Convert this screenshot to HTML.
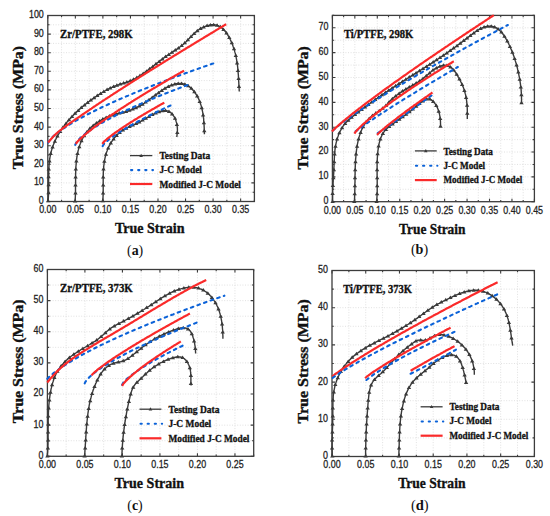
<!DOCTYPE html>
<html><head><meta charset="utf-8"><style>
html,body{margin:0;padding:0;background:#fff;}
body{width:550px;height:516px;overflow:hidden;font-family:"Liberation Sans",sans-serif;}
svg{display:block;}
</style></head><body>
<svg width="550" height="516" viewBox="0 0 550 516">
<rect width="550" height="516" fill="#fff"/>
<g><path d="M61.57 15.50V201.50M75.35 15.50V201.50M89.12 15.50V201.50M102.89 15.50V201.50M116.67 15.50V201.50M130.44 15.50V201.50M144.21 15.50V201.50M157.99 15.50V201.50M171.76 15.50V201.50M185.53 15.50V201.50M199.31 15.50V201.50M213.08 15.50V201.50M226.85 15.50V201.50M240.63 15.50V201.50M47.80 192.20H254.40M47.80 182.90H254.40M47.80 173.60H254.40M47.80 164.30H254.40M47.80 155.00H254.40M47.80 145.70H254.40M47.80 136.40H254.40M47.80 127.10H254.40M47.80 117.80H254.40M47.80 108.50H254.40M47.80 99.20H254.40M47.80 89.90H254.40M47.80 80.60H254.40M47.80 71.30H254.40M47.80 62.00H254.40M47.80 52.70H254.40M47.80 43.40H254.40M47.80 34.10H254.40M47.80 24.80H254.40" stroke="#d9d9d9" stroke-width="0.8" stroke-dasharray="1 1.6" fill="none"/><path d="M47.80 201.50v-3.00M47.80 15.50v3.00M61.57 201.50v-1.80M61.57 15.50v1.80M75.35 201.50v-3.00M75.35 15.50v3.00M89.12 201.50v-1.80M89.12 15.50v1.80M102.89 201.50v-3.00M102.89 15.50v3.00M116.67 201.50v-1.80M116.67 15.50v1.80M130.44 201.50v-3.00M130.44 15.50v3.00M144.21 201.50v-1.80M144.21 15.50v1.80M157.99 201.50v-3.00M157.99 15.50v3.00M171.76 201.50v-1.80M171.76 15.50v1.80M185.53 201.50v-3.00M185.53 15.50v3.00M199.31 201.50v-1.80M199.31 15.50v1.80M213.08 201.50v-3.00M213.08 15.50v3.00M226.85 201.50v-1.80M226.85 15.50v1.80M240.63 201.50v-3.00M240.63 15.50v3.00M254.40 201.50v-1.80M254.40 15.50v1.80M47.80 201.50h3.00M254.40 201.50h-3.00M47.80 192.20h1.80M254.40 192.20h-1.80M47.80 182.90h3.00M254.40 182.90h-3.00M47.80 173.60h1.80M254.40 173.60h-1.80M47.80 164.30h3.00M254.40 164.30h-3.00M47.80 155.00h1.80M254.40 155.00h-1.80M47.80 145.70h3.00M254.40 145.70h-3.00M47.80 136.40h1.80M254.40 136.40h-1.80M47.80 127.10h3.00M254.40 127.10h-3.00M47.80 117.80h1.80M254.40 117.80h-1.80M47.80 108.50h3.00M254.40 108.50h-3.00M47.80 99.20h1.80M254.40 99.20h-1.80M47.80 89.90h3.00M254.40 89.90h-3.00M47.80 80.60h1.80M254.40 80.60h-1.80M47.80 71.30h3.00M254.40 71.30h-3.00M47.80 62.00h1.80M254.40 62.00h-1.80M47.80 52.70h3.00M254.40 52.70h-3.00M47.80 43.40h1.80M254.40 43.40h-1.80M47.80 34.10h3.00M254.40 34.10h-3.00M47.80 24.80h1.80M254.40 24.80h-1.80M47.80 15.50h3.00M254.40 15.50h-3.00" stroke="#3c3c3c" stroke-width="1.1" fill="none"/><rect x="47.80" y="15.50" width="206.60" height="186.00" fill="none" stroke="#3c3c3c" stroke-width="1.3"/><g font-family="Liberation Sans, sans-serif" font-size="11.3" fill="#222" stroke="#222" stroke-width="0.3"><text x="39.15" y="213.40" textLength="17.30" lengthAdjust="spacingAndGlyphs">0.00</text><text x="66.70" y="213.40" textLength="17.30" lengthAdjust="spacingAndGlyphs">0.05</text><text x="94.24" y="213.40" textLength="17.30" lengthAdjust="spacingAndGlyphs">0.10</text><text x="121.79" y="213.40" textLength="17.30" lengthAdjust="spacingAndGlyphs">0.15</text><text x="149.34" y="213.40" textLength="17.30" lengthAdjust="spacingAndGlyphs">0.20</text><text x="176.88" y="213.40" textLength="17.30" lengthAdjust="spacingAndGlyphs">0.25</text><text x="204.43" y="213.40" textLength="17.30" lengthAdjust="spacingAndGlyphs">0.30</text><text x="231.98" y="213.40" textLength="17.30" lengthAdjust="spacingAndGlyphs">0.35</text><text x="38.85" y="203.90" textLength="4.95" lengthAdjust="spacingAndGlyphs">0</text><text x="33.90" y="185.30" textLength="9.90" lengthAdjust="spacingAndGlyphs">10</text><text x="33.90" y="166.70" textLength="9.90" lengthAdjust="spacingAndGlyphs">20</text><text x="33.90" y="148.10" textLength="9.90" lengthAdjust="spacingAndGlyphs">30</text><text x="33.90" y="129.50" textLength="9.90" lengthAdjust="spacingAndGlyphs">40</text><text x="33.90" y="110.90" textLength="9.90" lengthAdjust="spacingAndGlyphs">50</text><text x="33.90" y="92.30" textLength="9.90" lengthAdjust="spacingAndGlyphs">60</text><text x="33.90" y="73.70" textLength="9.90" lengthAdjust="spacingAndGlyphs">70</text><text x="33.90" y="55.10" textLength="9.90" lengthAdjust="spacingAndGlyphs">80</text><text x="33.90" y="36.50" textLength="9.90" lengthAdjust="spacingAndGlyphs">90</text><text x="28.95" y="17.90" textLength="14.85" lengthAdjust="spacingAndGlyphs">100</text></g></g>
<g><path d="M343.62 15.40V201.70M354.84 15.40V201.70M366.07 15.40V201.70M377.29 15.40V201.70M388.51 15.40V201.70M399.73 15.40V201.70M410.96 15.40V201.70M422.18 15.40V201.70M433.40 15.40V201.70M444.62 15.40V201.70M455.84 15.40V201.70M467.07 15.40V201.70M478.29 15.40V201.70M489.51 15.40V201.70M500.73 15.40V201.70M511.96 15.40V201.70M523.18 15.40V201.70M332.40 189.28H534.40M332.40 176.86H534.40M332.40 164.44H534.40M332.40 152.02H534.40M332.40 139.60H534.40M332.40 127.18H534.40M332.40 114.76H534.40M332.40 102.34H534.40M332.40 89.92H534.40M332.40 77.50H534.40M332.40 65.08H534.40M332.40 52.66H534.40M332.40 40.24H534.40M332.40 27.82H534.40" stroke="#d9d9d9" stroke-width="0.8" stroke-dasharray="1 1.6" fill="none"/><path d="M332.40 201.70v-3.00M332.40 15.40v3.00M343.62 201.70v-1.80M343.62 15.40v1.80M354.84 201.70v-3.00M354.84 15.40v3.00M366.07 201.70v-1.80M366.07 15.40v1.80M377.29 201.70v-3.00M377.29 15.40v3.00M388.51 201.70v-1.80M388.51 15.40v1.80M399.73 201.70v-3.00M399.73 15.40v3.00M410.96 201.70v-1.80M410.96 15.40v1.80M422.18 201.70v-3.00M422.18 15.40v3.00M433.40 201.70v-1.80M433.40 15.40v1.80M444.62 201.70v-3.00M444.62 15.40v3.00M455.84 201.70v-1.80M455.84 15.40v1.80M467.07 201.70v-3.00M467.07 15.40v3.00M478.29 201.70v-1.80M478.29 15.40v1.80M489.51 201.70v-3.00M489.51 15.40v3.00M500.73 201.70v-1.80M500.73 15.40v1.80M511.96 201.70v-3.00M511.96 15.40v3.00M523.18 201.70v-1.80M523.18 15.40v1.80M534.40 201.70v-3.00M534.40 15.40v3.00M332.40 201.70h3.00M534.40 201.70h-3.00M332.40 189.28h1.80M534.40 189.28h-1.80M332.40 176.86h3.00M534.40 176.86h-3.00M332.40 164.44h1.80M534.40 164.44h-1.80M332.40 152.02h3.00M534.40 152.02h-3.00M332.40 139.60h1.80M534.40 139.60h-1.80M332.40 127.18h3.00M534.40 127.18h-3.00M332.40 114.76h1.80M534.40 114.76h-1.80M332.40 102.34h3.00M534.40 102.34h-3.00M332.40 89.92h1.80M534.40 89.92h-1.80M332.40 77.50h3.00M534.40 77.50h-3.00M332.40 65.08h1.80M534.40 65.08h-1.80M332.40 52.66h3.00M534.40 52.66h-3.00M332.40 40.24h1.80M534.40 40.24h-1.80M332.40 27.82h3.00M534.40 27.82h-3.00M332.40 15.40h1.80M534.40 15.40h-1.80" stroke="#3c3c3c" stroke-width="1.1" fill="none"/><rect x="332.40" y="15.40" width="202.00" height="186.30" fill="none" stroke="#3c3c3c" stroke-width="1.3"/><g font-family="Liberation Sans, sans-serif" font-size="11.3" fill="#222" stroke="#222" stroke-width="0.3"><text x="323.75" y="213.60" textLength="17.30" lengthAdjust="spacingAndGlyphs">0.00</text><text x="346.19" y="213.60" textLength="17.30" lengthAdjust="spacingAndGlyphs">0.05</text><text x="368.64" y="213.60" textLength="17.30" lengthAdjust="spacingAndGlyphs">0.10</text><text x="391.08" y="213.60" textLength="17.30" lengthAdjust="spacingAndGlyphs">0.15</text><text x="413.53" y="213.60" textLength="17.30" lengthAdjust="spacingAndGlyphs">0.20</text><text x="435.97" y="213.60" textLength="17.30" lengthAdjust="spacingAndGlyphs">0.25</text><text x="458.42" y="213.60" textLength="17.30" lengthAdjust="spacingAndGlyphs">0.30</text><text x="480.86" y="213.60" textLength="17.30" lengthAdjust="spacingAndGlyphs">0.35</text><text x="503.31" y="213.60" textLength="17.30" lengthAdjust="spacingAndGlyphs">0.40</text><text x="525.75" y="213.60" textLength="17.30" lengthAdjust="spacingAndGlyphs">0.45</text><text x="323.45" y="204.10" textLength="4.95" lengthAdjust="spacingAndGlyphs">0</text><text x="318.50" y="179.26" textLength="9.90" lengthAdjust="spacingAndGlyphs">10</text><text x="318.50" y="154.42" textLength="9.90" lengthAdjust="spacingAndGlyphs">20</text><text x="318.50" y="129.58" textLength="9.90" lengthAdjust="spacingAndGlyphs">30</text><text x="318.50" y="104.74" textLength="9.90" lengthAdjust="spacingAndGlyphs">40</text><text x="318.50" y="79.90" textLength="9.90" lengthAdjust="spacingAndGlyphs">50</text><text x="318.50" y="55.06" textLength="9.90" lengthAdjust="spacingAndGlyphs">60</text><text x="318.50" y="30.22" textLength="9.90" lengthAdjust="spacingAndGlyphs">70</text></g></g>
<g><path d="M66.15 269.50V456.30M84.91 269.50V456.30M103.66 269.50V456.30M122.42 269.50V456.30M141.17 269.50V456.30M159.93 269.50V456.30M178.68 269.50V456.30M197.44 269.50V456.30M216.19 269.50V456.30M234.95 269.50V456.30M47.40 440.73H253.70M47.40 425.17H253.70M47.40 409.60H253.70M47.40 394.03H253.70M47.40 378.47H253.70M47.40 362.90H253.70M47.40 347.33H253.70M47.40 331.77H253.70M47.40 316.20H253.70M47.40 300.63H253.70M47.40 285.07H253.70" stroke="#d9d9d9" stroke-width="0.8" stroke-dasharray="1 1.6" fill="none"/><path d="M47.40 456.30v-3.00M47.40 269.50v3.00M66.15 456.30v-1.80M66.15 269.50v1.80M84.91 456.30v-3.00M84.91 269.50v3.00M103.66 456.30v-1.80M103.66 269.50v1.80M122.42 456.30v-3.00M122.42 269.50v3.00M141.17 456.30v-1.80M141.17 269.50v1.80M159.93 456.30v-3.00M159.93 269.50v3.00M178.68 456.30v-1.80M178.68 269.50v1.80M197.44 456.30v-3.00M197.44 269.50v3.00M216.19 456.30v-1.80M216.19 269.50v1.80M234.95 456.30v-3.00M234.95 269.50v3.00M253.70 456.30v-1.80M253.70 269.50v1.80M47.40 456.30h3.00M253.70 456.30h-3.00M47.40 440.73h1.80M253.70 440.73h-1.80M47.40 425.17h3.00M253.70 425.17h-3.00M47.40 409.60h1.80M253.70 409.60h-1.80M47.40 394.03h3.00M253.70 394.03h-3.00M47.40 378.47h1.80M253.70 378.47h-1.80M47.40 362.90h3.00M253.70 362.90h-3.00M47.40 347.33h1.80M253.70 347.33h-1.80M47.40 331.77h3.00M253.70 331.77h-3.00M47.40 316.20h1.80M253.70 316.20h-1.80M47.40 300.63h3.00M253.70 300.63h-3.00M47.40 285.07h1.80M253.70 285.07h-1.80M47.40 269.50h3.00M253.70 269.50h-3.00" stroke="#3c3c3c" stroke-width="1.1" fill="none"/><rect x="47.40" y="269.50" width="206.30" height="186.80" fill="none" stroke="#3c3c3c" stroke-width="1.3"/><g font-family="Liberation Sans, sans-serif" font-size="11.3" fill="#222" stroke="#222" stroke-width="0.3"><text x="38.75" y="468.20" textLength="17.30" lengthAdjust="spacingAndGlyphs">0.00</text><text x="76.26" y="468.20" textLength="17.30" lengthAdjust="spacingAndGlyphs">0.05</text><text x="113.77" y="468.20" textLength="17.30" lengthAdjust="spacingAndGlyphs">0.10</text><text x="151.28" y="468.20" textLength="17.30" lengthAdjust="spacingAndGlyphs">0.15</text><text x="188.79" y="468.20" textLength="17.30" lengthAdjust="spacingAndGlyphs">0.20</text><text x="226.30" y="468.20" textLength="17.30" lengthAdjust="spacingAndGlyphs">0.25</text><text x="38.45" y="458.70" textLength="4.95" lengthAdjust="spacingAndGlyphs">0</text><text x="33.50" y="427.57" textLength="9.90" lengthAdjust="spacingAndGlyphs">10</text><text x="33.50" y="396.43" textLength="9.90" lengthAdjust="spacingAndGlyphs">20</text><text x="33.50" y="365.30" textLength="9.90" lengthAdjust="spacingAndGlyphs">30</text><text x="33.50" y="334.17" textLength="9.90" lengthAdjust="spacingAndGlyphs">40</text><text x="33.50" y="303.03" textLength="9.90" lengthAdjust="spacingAndGlyphs">50</text><text x="33.50" y="271.90" textLength="9.90" lengthAdjust="spacingAndGlyphs">60</text></g></g>
<g><path d="M348.87 270.50V456.50M365.73 270.50V456.50M382.60 270.50V456.50M399.47 270.50V456.50M416.33 270.50V456.50M433.20 270.50V456.50M450.07 270.50V456.50M466.93 270.50V456.50M483.80 270.50V456.50M500.67 270.50V456.50M517.53 270.50V456.50M332.00 437.90H534.40M332.00 419.30H534.40M332.00 400.70H534.40M332.00 382.10H534.40M332.00 363.50H534.40M332.00 344.90H534.40M332.00 326.30H534.40M332.00 307.70H534.40M332.00 289.10H534.40" stroke="#d9d9d9" stroke-width="0.8" stroke-dasharray="1 1.6" fill="none"/><path d="M332.00 456.50v-3.00M332.00 270.50v3.00M348.87 456.50v-1.80M348.87 270.50v1.80M365.73 456.50v-3.00M365.73 270.50v3.00M382.60 456.50v-1.80M382.60 270.50v1.80M399.47 456.50v-3.00M399.47 270.50v3.00M416.33 456.50v-1.80M416.33 270.50v1.80M433.20 456.50v-3.00M433.20 270.50v3.00M450.07 456.50v-1.80M450.07 270.50v1.80M466.93 456.50v-3.00M466.93 270.50v3.00M483.80 456.50v-1.80M483.80 270.50v1.80M500.67 456.50v-3.00M500.67 270.50v3.00M517.53 456.50v-1.80M517.53 270.50v1.80M534.40 456.50v-3.00M534.40 270.50v3.00M332.00 456.50h3.00M534.40 456.50h-3.00M332.00 437.90h1.80M534.40 437.90h-1.80M332.00 419.30h3.00M534.40 419.30h-3.00M332.00 400.70h1.80M534.40 400.70h-1.80M332.00 382.10h3.00M534.40 382.10h-3.00M332.00 363.50h1.80M534.40 363.50h-1.80M332.00 344.90h3.00M534.40 344.90h-3.00M332.00 326.30h1.80M534.40 326.30h-1.80M332.00 307.70h3.00M534.40 307.70h-3.00M332.00 289.10h1.80M534.40 289.10h-1.80M332.00 270.50h3.00M534.40 270.50h-3.00" stroke="#3c3c3c" stroke-width="1.1" fill="none"/><rect x="332.00" y="270.50" width="202.40" height="186.00" fill="none" stroke="#3c3c3c" stroke-width="1.3"/><g font-family="Liberation Sans, sans-serif" font-size="11.3" fill="#222" stroke="#222" stroke-width="0.3"><text x="323.35" y="468.40" textLength="17.30" lengthAdjust="spacingAndGlyphs">0.00</text><text x="357.08" y="468.40" textLength="17.30" lengthAdjust="spacingAndGlyphs">0.05</text><text x="390.82" y="468.40" textLength="17.30" lengthAdjust="spacingAndGlyphs">0.10</text><text x="424.55" y="468.40" textLength="17.30" lengthAdjust="spacingAndGlyphs">0.15</text><text x="458.28" y="468.40" textLength="17.30" lengthAdjust="spacingAndGlyphs">0.20</text><text x="492.02" y="468.40" textLength="17.30" lengthAdjust="spacingAndGlyphs">0.25</text><text x="525.75" y="468.40" textLength="17.30" lengthAdjust="spacingAndGlyphs">0.30</text><text x="323.05" y="458.90" textLength="4.95" lengthAdjust="spacingAndGlyphs">0</text><text x="318.10" y="421.70" textLength="9.90" lengthAdjust="spacingAndGlyphs">10</text><text x="318.10" y="384.50" textLength="9.90" lengthAdjust="spacingAndGlyphs">20</text><text x="318.10" y="347.30" textLength="9.90" lengthAdjust="spacingAndGlyphs">30</text><text x="318.10" y="310.10" textLength="9.90" lengthAdjust="spacingAndGlyphs">40</text><text x="318.10" y="272.90" textLength="9.90" lengthAdjust="spacingAndGlyphs">50</text></g></g>
<path d="M48.1 200.9 48.2 199.9 48.3 199.0 48.3 198.0 48.4 197.0 48.4 196.1 48.5 195.1 48.5 194.1 48.5 193.1 48.6 192.1 48.6 191.2 48.6 190.2 48.6 189.2 48.6 188.2 48.6 187.1 48.6 186.1 48.6 185.1 48.6 184.1 48.6 183.1 48.6 182.1 48.6 181.1 48.6 180.0 48.6 179.0 48.6 178.0 48.6 177.0 48.7 175.9 48.7 174.9 48.7 173.9 48.7 172.9 48.7 171.8 48.8 170.8 48.8 169.8 48.8 168.8 48.9 167.7 49.0 166.7 49.0 165.7 49.1 164.7 49.2 163.7 49.3 162.7 49.4 161.7 49.5 160.7 49.6 159.7 49.8 158.7 49.9 157.7 50.1 156.7 50.3 155.7 50.5 154.7 50.7 153.7 50.9 152.8 51.2 151.8 51.4 150.9 51.7 149.9 52.0 148.9 52.3 148.0 52.6 147.1 52.9 146.1 53.3 145.2 53.6 144.3 54.0 143.4 54.4 142.5 54.8 141.5 55.2 140.6 55.6 139.8 56.0 138.9 56.5 138.0 56.9 137.1 57.4 136.2 57.9 135.4 58.4 134.5 58.9 133.6 59.4 132.8 59.9 131.9 60.5 131.1 61.0 130.3 61.6 129.4 62.1 128.6 62.7 127.8 63.3 127.0 63.9 126.2 64.5 125.4 65.1 124.6 65.7 123.8 66.4 123.0 67.0 122.2 67.6 121.4 68.3 120.7 69.0 119.9 69.6 119.2 70.3 118.4 71.0 117.7 71.7 116.9 72.4 116.2 73.1 115.5 73.8 114.7 74.5 114.0 75.2 113.3 75.9 112.6 76.7 111.9 77.4 111.2 78.2 110.5 78.9 109.9 79.7 109.2 80.4 108.5 81.2 107.9 81.9 107.2 82.7 106.5 83.5 105.9 84.3 105.3 85.1 104.6 85.8 104.0 86.6 103.4 87.4 102.7 88.2 102.1 89.0 101.5 89.9 100.9 90.7 100.3 91.5 99.7 92.3 99.1 93.1 98.6 93.9 98.0 94.8 97.4 95.6 96.8 96.4 96.3 97.3 95.7 98.1 95.2 98.9 94.6 99.8 94.1 100.6 93.6 101.4 93.0 102.3 92.5 103.1 92.0 104.0 91.5 104.8 91.0 105.7 90.5 106.5 90.0 107.4 89.6 108.3 89.1 109.1 88.6 110.0 88.2 110.9 87.8 111.8 87.4 112.7 86.9 113.6 86.6 114.5 86.2 115.5 85.8 116.4 85.5 117.3 85.1 118.3 84.8 119.2 84.5 120.2 84.2 121.2 83.9 122.1 83.6 123.1 83.3 124.1 83.0 125.1 82.8 126.0 82.4 127.0 82.1 127.9 81.8 128.9 81.4 129.8 81.1 130.7 80.7 131.6 80.3 132.5 79.9 133.4 79.4 134.3 79.0 135.2 78.5 136.1 78.1 137.0 77.6 137.8 77.1 138.7 76.6 139.5 76.0 140.4 75.5 141.2 75.0 142.0 74.4 142.9 73.9 143.7 73.3 144.5 72.7 145.3 72.1 146.2 71.5 147.0 70.9 147.8 70.3 148.6 69.7 149.4 69.1 150.2 68.5 151.0 67.9 151.8 67.3 152.6 66.6 153.4 66.0 154.2 65.4 155.0 64.8 155.8 64.1 156.6 63.5 157.4 62.9 158.2 62.3 159.0 61.6 159.8 61.0 160.6 60.4 161.4 59.8 162.2 59.2 163.0 58.6 163.8 58.0 164.6 57.4 165.4 56.8 166.3 56.2 167.1 55.6 167.9 55.1 168.8 54.5 169.6 54.0 170.4 53.4 171.3 52.9 172.1 52.3 172.9 51.8 173.8 51.2 174.6 50.7 175.4 50.1 176.3 49.6 177.1 49.0 177.9 48.4 178.7 47.8 179.5 47.3 180.3 46.7 181.1 46.1 181.9 45.4 182.7 44.8 183.4 44.2 184.2 43.5 184.9 42.8 185.6 42.2 186.4 41.5 187.1 40.7 187.8 40.0 188.5 39.3 189.2 38.6 189.9 37.9 190.6 37.1 191.3 36.4 192.0 35.7 192.7 35.0 193.4 34.3 194.2 33.6 194.9 32.9 195.7 32.2 196.5 31.5 197.3 30.9 198.1 30.3 198.9 29.7 199.8 29.1 200.7 28.6 201.6 28.0 202.5 27.6 203.4 27.1 204.4 26.7 205.4 26.3 206.3 25.9 207.3 25.6 208.3 25.4 209.3 25.1 210.2 25.0 211.2 24.8 212.2 24.8 213.1 24.8 214.1 24.8 215.0 24.9 215.9 25.0 216.8 25.3 217.6 25.5 218.5 25.9 219.3 26.3 220.1 26.7 220.9 27.2 221.6 27.8 222.4 28.4 223.1 29.1 223.8 29.7 224.5 30.5 225.1 31.2 225.8 32.0 226.4 32.9 227.0 33.7 227.5 34.6 228.1 35.5 228.6 36.4 229.1 37.4 229.6 38.3 230.1 39.3 230.6 40.2 231.0 41.2 231.5 42.2 231.9 43.1 232.3 44.1 232.6 45.1 233.0 46.1 233.3 47.0 233.7 48.0 234.0 49.0 234.3 49.9 234.6 50.9 234.8 51.9 235.1 52.9 235.4 53.8 235.6 54.8 235.8 55.8 236.0 56.7 236.2 57.7 236.4 58.7 236.6 59.7 236.7 60.6 236.9 61.6 237.1 62.6 237.2 63.6 237.3 64.5 237.5 65.5 237.6 66.5 237.7 67.5 237.8 68.5 237.9 69.4 238.0 70.4 238.1 71.4 238.1 72.4 238.2 73.4 238.3 74.4 238.4 75.4 238.4 76.4 238.5 77.4 238.6 78.4 238.6 79.4 238.7 80.4 238.7 81.4 238.8 82.4 238.8 83.4 238.9 84.4 238.9 85.4 239.0 86.4 239.1 87.4 239.1 88.5 239.2 89.5 239.2 90.5 239.3 91.5" stroke="#3a3a3a" stroke-width="1.4" fill="none" stroke-linejoin="round"/>
<path d="M48.1 198.8l2.2 3.5h-4.4zM48.5 190.8l2.2 3.5h-4.4zM48.6 182.8l2.2 3.5h-4.4zM48.6 174.8l2.2 3.5h-4.4zM48.8 166.9l2.2 3.5h-4.4zM49.5 159.0l2.2 3.5h-4.4zM50.7 151.6l2.2 3.5h-4.4zM52.6 145.0l2.2 3.5h-4.4zM54.9 139.2l2.2 3.5h-4.4zM57.4 134.0l2.2 3.5h-4.4zM60.2 129.4l2.2 3.5h-4.4zM63.0 125.2l2.2 3.5h-4.4zM66.0 121.4l2.2 3.5h-4.4zM69.0 117.8l2.2 3.5h-4.4zM72.0 114.5l2.2 3.5h-4.4zM75.1 111.3l2.2 3.5h-4.4zM78.2 108.4l2.2 3.5h-4.4zM81.3 105.6l2.2 3.5h-4.4zM84.5 103.0l2.2 3.5h-4.4zM87.7 100.4l2.2 3.5h-4.4zM90.9 98.1l2.2 3.5h-4.4zM94.1 95.8l2.2 3.5h-4.4zM97.3 93.6l2.2 3.5h-4.4zM100.6 91.5l2.2 3.5h-4.4zM103.8 89.5l2.2 3.5h-4.4zM107.1 87.6l2.2 3.5h-4.4zM110.3 86.0l2.2 3.5h-4.4zM113.6 84.5l2.2 3.5h-4.4zM116.9 83.2l2.2 3.5h-4.4zM120.2 82.1l2.2 3.5h-4.4zM123.6 81.1l2.2 3.5h-4.4zM126.9 80.1l2.2 3.5h-4.4zM130.2 78.8l2.2 3.5h-4.4zM133.5 77.3l2.2 3.5h-4.4zM136.8 75.6l2.2 3.5h-4.4zM140.0 73.6l2.2 3.5h-4.4zM143.2 71.5l2.2 3.5h-4.4zM146.5 69.2l2.2 3.5h-4.4zM149.6 66.8l2.2 3.5h-4.4zM152.8 64.4l2.2 3.5h-4.4zM156.0 61.8l2.2 3.5h-4.4zM159.2 59.4l2.2 3.5h-4.4zM162.4 56.9l2.2 3.5h-4.4zM165.6 54.6l2.2 3.5h-4.4zM168.8 52.4l2.2 3.5h-4.4zM172.0 50.3l2.2 3.5h-4.4zM175.3 48.1l2.2 3.5h-4.4zM178.5 45.9l2.2 3.5h-4.4zM181.7 43.5l2.2 3.5h-4.4zM184.8 40.8l2.2 3.5h-4.4zM187.9 37.8l2.2 3.5h-4.4zM191.0 34.6l2.2 3.5h-4.4zM194.1 31.5l2.2 3.5h-4.4zM197.3 28.8l2.2 3.5h-4.4zM200.5 26.6l2.2 3.5h-4.4zM203.7 24.9l2.2 3.5h-4.4zM207.1 23.6l2.2 3.5h-4.4zM210.4 22.9l2.2 3.5h-4.4zM213.7 22.7l2.2 3.5h-4.4zM217.1 23.3l2.2 3.5h-4.4zM220.4 24.8l2.2 3.5h-4.4zM223.5 27.4l2.2 3.5h-4.4zM226.5 31.0l2.2 3.5h-4.4zM229.3 35.5l2.2 3.5h-4.4zM231.8 40.8l2.2 3.5h-4.4zM234.0 46.8l2.2 3.5h-4.4zM235.8 53.6l2.2 3.5h-4.4zM237.1 60.9l2.2 3.5h-4.4zM238.0 68.6l2.2 3.5h-4.4zM238.6 76.5l2.2 3.5h-4.4zM239.0 84.4l2.2 3.5h-4.4z" fill="#3a3a3a"/>
<path d="M75.1 201.0 75.2 200.0 75.2 199.0 75.3 198.0 75.3 197.0 75.4 196.0 75.4 195.1 75.4 194.1 75.5 193.1 75.5 192.1 75.5 191.1 75.5 190.1 75.5 189.1 75.5 188.1 75.5 187.0 75.5 186.0 75.5 185.0 75.6 184.0 75.6 183.0 75.6 182.0 75.6 181.0 75.6 180.0 75.6 178.9 75.6 177.9 75.6 176.9 75.6 175.9 75.6 174.9 75.6 173.8 75.7 172.8 75.7 171.8 75.7 170.8 75.8 169.8 75.8 168.8 75.9 167.8 75.9 166.7 76.0 165.7 76.1 164.7 76.2 163.7 76.2 162.7 76.3 161.7 76.4 160.7 76.6 159.7 76.7 158.7 76.8 157.7 77.0 156.7 77.1 155.7 77.3 154.8 77.5 153.8 77.7 152.8 77.9 151.8 78.1 150.8 78.4 149.9 78.6 148.9 78.9 148.0 79.2 147.0 79.5 146.1 79.8 145.1 80.1 144.2 80.5 143.3 80.8 142.4 81.2 141.5 81.6 140.6 82.0 139.7 82.5 138.8 82.9 137.9 83.4 137.1 83.9 136.2 84.4 135.4 85.0 134.6 85.5 133.7 86.1 132.9 86.7 132.1 87.3 131.4 88.0 130.6 88.6 129.9 89.3 129.1 90.0 128.4 90.8 127.7 91.5 127.0 92.3 126.3 93.1 125.7 93.9 125.0 94.7 124.4 95.6 123.8 96.4 123.2 97.2 122.6 98.1 122.0 99.0 121.5 99.8 120.9 100.7 120.4 101.6 119.9 102.5 119.4 103.3 118.9 104.2 118.5 105.1 118.0 106.0 117.6 106.9 117.2 107.8 116.8 108.7 116.4 109.6 116.1 110.5 115.7 111.5 115.4 112.4 115.1 113.4 114.8 114.3 114.5 115.3 114.3 116.2 114.0 117.2 113.8 118.2 113.5 119.1 113.3 120.1 113.1 121.1 112.8 122.1 112.6 123.0 112.3 124.0 112.1 125.0 111.8 126.0 111.5 126.9 111.2 127.9 110.9 128.9 110.6 129.8 110.3 130.8 109.9 131.7 109.6 132.7 109.2 133.6 108.8 134.5 108.4 135.5 108.0 136.4 107.6 137.3 107.2 138.2 106.7 139.0 106.3 139.9 105.8 140.8 105.3 141.6 104.8 142.5 104.3 143.3 103.8 144.1 103.3 144.9 102.7 145.8 102.2 146.6 101.6 147.4 101.0 148.2 100.5 149.0 99.9 149.8 99.3 150.6 98.7 151.4 98.1 152.2 97.5 153.0 96.9 153.8 96.3 154.6 95.7 155.4 95.1 156.2 94.5 157.0 93.9 157.8 93.3 158.7 92.7 159.5 92.1 160.3 91.5 161.2 90.9 162.0 90.3 162.9 89.7 163.8 89.2 164.6 88.6 165.5 88.1 166.4 87.6 167.3 87.0 168.2 86.6 169.2 86.1 170.1 85.7 171.0 85.3 172.0 84.9 173.0 84.6 173.9 84.3 174.9 84.0 175.9 83.8 176.9 83.6 177.9 83.5 178.9 83.4 179.8 83.4 180.8 83.4 181.7 83.5 182.7 83.7 183.6 83.9 184.5 84.1 185.4 84.5 186.2 84.8 187.1 85.3 187.9 85.7 188.7 86.3 189.5 86.8 190.2 87.4 190.9 88.1 191.7 88.7 192.4 89.5 193.0 90.2 193.7 91.0 194.3 91.8 194.9 92.6 195.5 93.5 196.1 94.3 196.6 95.2 197.1 96.1 197.6 97.0 198.1 97.9 198.6 98.9 199.0 99.8 199.4 100.8 199.8 101.7 200.1 102.7 200.5 103.6 200.8 104.6 201.1 105.6 201.4 106.5 201.7 107.5 201.9 108.5 202.1 109.5 202.3 110.5 202.5 111.4 202.7 112.4 202.9 113.4 203.1 114.4 203.2 115.4 203.3 116.4 203.4 117.4 203.6 118.4 203.7 119.4 203.7 120.4 203.8 121.4 203.9 122.4 204.0 123.4 204.0 124.4 204.1 125.4 204.1 126.4 204.2 127.4 204.2 128.4 204.2 129.4 204.3 130.4 204.3 131.4 204.3 132.4 204.4 133.4 204.4 134.3" stroke="#3a3a3a" stroke-width="1.4" fill="none" stroke-linejoin="round"/>
<path d="M75.1 198.9l2.2 3.5h-4.4zM75.5 190.9l2.2 3.5h-4.4zM75.5 182.9l2.2 3.5h-4.4zM75.6 174.9l2.2 3.5h-4.4zM75.8 166.9l2.2 3.5h-4.4zM76.4 159.1l2.2 3.5h-4.4zM77.5 151.5l2.2 3.5h-4.4zM79.3 144.7l2.2 3.5h-4.4zM81.5 138.8l2.2 3.5h-4.4zM84.1 133.8l2.2 3.5h-4.4zM87.0 129.7l2.2 3.5h-4.4zM90.0 126.3l2.2 3.5h-4.4zM93.2 123.5l2.2 3.5h-4.4zM96.4 121.1l2.2 3.5h-4.4zM99.6 119.0l2.2 3.5h-4.4zM102.8 117.1l2.2 3.5h-4.4zM106.1 115.4l2.2 3.5h-4.4zM109.4 114.0l2.2 3.5h-4.4zM112.7 112.9l2.2 3.5h-4.4zM116.1 112.0l2.2 3.5h-4.4zM119.4 111.1l2.2 3.5h-4.4zM122.7 110.3l2.2 3.5h-4.4zM126.1 109.4l2.2 3.5h-4.4zM129.4 108.3l2.2 3.5h-4.4zM132.7 107.1l2.2 3.5h-4.4zM136.0 105.7l2.2 3.5h-4.4zM139.3 104.1l2.2 3.5h-4.4zM142.5 102.2l2.2 3.5h-4.4zM145.7 100.1l2.2 3.5h-4.4zM149.0 97.8l2.2 3.5h-4.4zM152.2 95.4l2.2 3.5h-4.4zM155.4 93.0l2.2 3.5h-4.4zM158.6 90.7l2.2 3.5h-4.4zM161.8 88.4l2.2 3.5h-4.4zM165.0 86.3l2.2 3.5h-4.4zM168.3 84.5l2.2 3.5h-4.4zM171.6 83.0l2.2 3.5h-4.4zM174.9 81.9l2.2 3.5h-4.4zM178.2 81.4l2.2 3.5h-4.4zM181.6 81.4l2.2 3.5h-4.4zM184.9 82.2l2.2 3.5h-4.4zM188.2 83.8l2.2 3.5h-4.4zM191.3 86.3l2.2 3.5h-4.4zM194.4 89.8l2.2 3.5h-4.4zM197.2 94.1l2.2 3.5h-4.4zM199.7 99.4l2.2 3.5h-4.4zM201.7 105.7l2.2 3.5h-4.4zM203.1 112.9l2.2 3.5h-4.4zM203.9 120.7l2.2 3.5h-4.4zM204.3 128.7l2.2 3.5h-4.4z" fill="#3a3a3a"/>
<path d="M102.8 200.9 102.9 200.0 102.9 199.0 103.0 198.0 103.0 197.0 103.1 196.0 103.1 195.0 103.1 194.0 103.1 193.0 103.1 192.0 103.2 191.0 103.2 190.0 103.2 189.0 103.2 188.0 103.2 187.0 103.2 186.0 103.2 184.9 103.2 183.9 103.2 182.9 103.2 181.9 103.2 180.9 103.2 179.8 103.2 178.8 103.2 177.8 103.2 176.8 103.2 175.8 103.3 174.7 103.3 173.7 103.3 172.7 103.4 171.7 103.4 170.7 103.5 169.6 103.6 168.6 103.7 167.6 103.7 166.6 103.8 165.6 104.0 164.6 104.1 163.6 104.2 162.6 104.4 161.6 104.5 160.6 104.7 159.6 104.9 158.6 105.1 157.7 105.3 156.7 105.6 155.7 105.8 154.8 106.1 153.8 106.4 152.8 106.7 151.9 107.1 150.9 107.4 150.0 107.8 149.1 108.2 148.1 108.6 147.2 109.0 146.3 109.5 145.4 110.0 144.5 110.5 143.6 111.0 142.8 111.5 141.9 112.1 141.1 112.7 140.2 113.3 139.4 113.9 138.6 114.5 137.8 115.2 137.0 115.9 136.3 116.6 135.5 117.3 134.8 118.0 134.1 118.7 133.4 119.5 132.8 120.3 132.1 121.0 131.5 121.8 130.9 122.7 130.4 123.5 129.8 124.3 129.3 125.2 128.8 126.1 128.3 127.0 127.9 127.9 127.4 128.8 127.0 129.7 126.6 130.6 126.2 131.5 125.8 132.4 125.3 133.3 124.9 134.2 124.5 135.2 124.1 136.1 123.7 137.0 123.2 137.9 122.8 138.8 122.3 139.7 121.8 140.6 121.4 141.5 120.9 142.4 120.4 143.2 119.8 144.1 119.3 145.0 118.8 145.9 118.3 146.8 117.8 147.7 117.3 148.6 116.7 149.5 116.2 150.4 115.7 151.3 115.2 152.3 114.7 153.2 114.3 154.1 113.8 155.1 113.4 156.0 112.9 157.0 112.5 158.0 112.1 159.0 111.8 159.9 111.5 160.9 111.2 161.9 111.0 162.8 110.8 163.7 110.7 164.7 110.6 165.6 110.6 166.4 110.7 167.3 110.9 168.1 111.2 168.9 111.5 169.6 112.0 170.4 112.4 171.1 113.0 171.7 113.6 172.4 114.3 173.0 115.0 173.5 115.8 174.1 116.6 174.6 117.5 175.0 118.4 175.4 119.4 175.8 120.3 176.1 121.4 176.4 122.4 176.7 123.4 176.9 124.5 177.1 125.6 177.2 126.7 177.3 127.8 177.4 128.9 177.4 130.0 177.4 131.0 177.3 132.1 177.3 133.1 177.1 134.1 177.0 135.1 176.9 136.1 176.7 137.0" stroke="#3a3a3a" stroke-width="1.4" fill="none" stroke-linejoin="round"/>
<path d="M102.8 198.8l2.2 3.5h-4.4zM103.1 190.9l2.2 3.5h-4.4zM103.2 182.9l2.2 3.5h-4.4zM103.2 174.9l2.2 3.5h-4.4zM103.5 166.9l2.2 3.5h-4.4zM104.4 159.2l2.2 3.5h-4.4zM106.0 152.2l2.2 3.5h-4.4zM108.2 146.1l2.2 3.5h-4.4zM110.8 141.1l2.2 3.5h-4.4zM113.6 136.9l2.2 3.5h-4.4zM116.6 133.4l2.2 3.5h-4.4zM119.7 130.5l2.2 3.5h-4.4zM122.9 128.1l2.2 3.5h-4.4zM126.2 126.2l2.2 3.5h-4.4zM129.5 124.6l2.2 3.5h-4.4zM132.8 123.1l2.2 3.5h-4.4zM136.1 121.6l2.2 3.5h-4.4zM139.3 119.9l2.2 3.5h-4.4zM142.6 118.1l2.2 3.5h-4.4zM145.8 116.2l2.2 3.5h-4.4zM149.1 114.4l2.2 3.5h-4.4zM152.4 112.6l2.2 3.5h-4.4zM155.7 111.0l2.2 3.5h-4.4zM159.0 109.7l2.2 3.5h-4.4zM162.3 108.8l2.2 3.5h-4.4zM165.6 108.6l2.2 3.5h-4.4zM169.0 109.5l2.2 3.5h-4.4zM172.1 111.9l2.2 3.5h-4.4zM175.0 116.2l2.2 3.5h-4.4zM176.9 122.6l2.2 3.5h-4.4zM177.3 130.4l2.2 3.5h-4.4z" fill="#3a3a3a"/>
<path d="M48.3 142.6 49.3 140.8 50.3 139.5 51.3 138.3 52.3 137.3 53.4 136.3 54.4 135.4 55.4 134.6 56.4 133.7 57.4 132.9 58.4 132.1 59.4 131.4 60.4 130.6 61.4 129.9 62.5 129.2 63.5 128.5 64.5 127.8 65.5 127.1 66.5 126.5 67.5 125.8 68.5 125.2 69.5 124.6 70.6 123.9 71.6 123.3 72.6 122.7 73.6 122.1 74.6 121.5 75.6 120.9 76.6 120.4 77.6 119.8 78.6 119.2 79.7 118.7 80.7 118.1 81.7 117.6 82.7 117.0 83.7 116.5 84.7 115.9 85.7 115.4 86.7 114.9 87.7 114.3 88.8 113.8 89.8 113.3 90.8 112.8 91.8 112.3 92.8 111.8 93.8 111.3 94.8 110.8 95.8 110.3 96.8 109.8 97.9 109.3 98.9 108.8 99.9 108.3 100.9 107.8 101.9 107.3 102.9 106.8 103.9 106.4 104.9 105.9 105.9 105.4 107.0 105.0 108.0 104.5 109.0 104.0 110.0 103.6 111.0 103.1 112.0 102.6 113.0 102.2 114.0 101.7 115.1 101.3 116.1 100.8 117.1 100.4 118.1 99.9 119.1 99.5 120.1 99.0 121.1 98.6 122.1 98.2 123.1 97.7 124.2 97.3 125.2 96.9 126.2 96.4 127.2 96.0 128.2 95.6 129.2 95.1 130.2 94.7 131.2 94.3 132.2 93.9 133.3 93.4 134.3 93.0 135.3 92.6 136.3 92.2 137.3 91.8 138.3 91.4 139.3 90.9 140.3 90.5 141.3 90.1 142.4 89.7 143.4 89.3 144.4 88.9 145.4 88.5 146.4 88.1 147.4 87.7 148.4 87.3 149.4 86.9 150.4 86.5 151.5 86.1 152.5 85.7 153.5 85.3 154.5 84.9 155.5 84.5 156.5 84.1 157.5 83.7 158.5 83.3 159.6 82.9 160.6 82.5 161.6 82.2 162.6 81.8 163.6 81.4 164.6 81.0 165.6 80.6 166.6 80.2 167.6 79.9 168.7 79.5 169.7 79.1 170.7 78.7 171.7 78.3 172.7 78.0 173.7 77.6 174.7 77.2 175.7 76.8 176.7 76.5 177.8 76.1 178.8 75.7 179.8 75.3 180.8 75.0 181.8 74.6 182.8 74.2 183.8 73.9 184.8 73.5 185.8 73.1 186.9 72.8 187.9 72.4 188.9 72.0 189.9 71.7 190.9 71.3 191.9 70.9 192.9 70.6 193.9 70.2 194.9 69.9 196.0 69.5 197.0 69.1 198.0 68.8 199.0 68.4 200.0 68.1 201.0 67.7 202.0 67.4 203.0 67.0 204.1 66.6 205.1 66.3 206.1 65.9 207.1 65.6 208.1 65.2 209.1 64.9 210.1 64.5 211.1 64.2 212.1 63.8 213.2 63.5 214.2 63.1 215.2 62.8 216.2 62.4 217.2 62.1" stroke="#0b62d8" stroke-width="2.1" fill="none" stroke-dasharray="2.7 4.3" stroke-linecap="round"/>
<path d="M48.1 142.7 49.1 141.4 50.1 140.2 51.1 139.0 52.1 137.9 53.1 136.8 54.1 135.8 55.1 134.8 56.1 133.8 57.2 132.9 58.2 132.0 59.2 131.2 60.2 130.3 61.2 129.6 62.2 128.8 63.2 128.0 64.2 127.3 65.2 126.6 66.2 125.8 67.2 125.1 68.2 124.4 69.2 123.7 70.2 123.0 71.2 122.3 72.2 121.6 73.3 120.9 74.3 120.2 75.3 119.5 76.3 118.8 77.3 118.1 78.3 117.5 79.3 116.8 80.3 116.1 81.3 115.4 82.3 114.7 83.3 114.0 84.3 113.3 85.3 112.6 86.3 112.0 87.3 111.3 88.3 110.6 89.4 109.9 90.4 109.2 91.4 108.6 92.4 107.9 93.4 107.2 94.4 106.5 95.4 105.9 96.4 105.2 97.4 104.5 98.4 103.9 99.4 103.2 100.4 102.5 101.4 101.9 102.4 101.2 103.4 100.5 104.4 99.9 105.5 99.2 106.5 98.5 107.5 97.9 108.5 97.2 109.5 96.6 110.5 95.9 111.5 95.2 112.5 94.6 113.5 93.9 114.5 93.3 115.5 92.6 116.5 92.0 117.5 91.3 118.5 90.7 119.5 90.0 120.5 89.4 121.6 88.7 122.6 88.1 123.6 87.4 124.6 86.8 125.6 86.1 126.6 85.5 127.6 84.8 128.6 84.2 129.6 83.6 130.6 82.9 131.6 82.3 132.6 81.6 133.6 81.0 134.6 80.4 135.6 79.7 136.6 79.1 137.7 78.5 138.7 77.8 139.7 77.2 140.7 76.5 141.7 75.9 142.7 75.3 143.7 74.6 144.7 74.0 145.7 73.4 146.7 72.7 147.7 72.1 148.7 71.5 149.7 70.9 150.7 70.2 151.7 69.6 152.7 69.0 153.8 68.4 154.8 67.7 155.8 67.1 156.8 66.5 157.8 65.8 158.8 65.2 159.8 64.6 160.8 64.0 161.8 63.4 162.8 62.7 163.8 62.1 164.8 61.5 165.8 60.9 166.8 60.2 167.8 59.6 168.8 59.0 169.9 58.4 170.9 57.8 171.9 57.2 172.9 56.5 173.9 55.9 174.9 55.3 175.9 54.7 176.9 54.1 177.9 53.5 178.9 52.8 179.9 52.2 180.9 51.6 181.9 51.0 182.9 50.4 183.9 49.8 184.9 49.2 186.0 48.5 187.0 47.9 188.0 47.3 189.0 46.7 190.0 46.1 191.0 45.5 192.0 44.9 193.0 44.3 194.0 43.6 195.0 43.0 196.0 42.4 197.0 41.8 198.0 41.2 199.0 40.6 200.0 40.0 201.0 39.4 202.1 38.8 203.1 38.2 204.1 37.5 205.1 36.9 206.1 36.3 207.1 35.7 208.1 35.1 209.1 34.5 210.1 33.9 211.1 33.3 212.1 32.7 213.1 32.1 214.1 31.5 215.1 30.9 216.1 30.2 217.1 29.6 218.2 29.0 219.2 28.4 220.2 27.8 221.2 27.2 222.2 26.6 223.2 26.0 224.2 25.4 225.2 24.8 226.2 24.2" stroke="#fa2a2a" stroke-width="2.2" fill="none"/>
<path d="M75.2 144.9 76.2 142.7 77.2 141.3 78.2 140.1 79.3 139.0 80.3 138.0 81.3 137.1 82.3 136.2 83.3 135.3 84.3 134.5 85.4 133.7 86.4 132.9 87.4 132.2 88.4 131.5 89.4 130.7 90.4 130.0 91.4 129.4 92.5 128.7 93.5 128.0 94.5 127.4 95.5 126.7 96.5 126.1 97.5 125.5 98.5 124.9 99.6 124.3 100.6 123.7 101.6 123.1 102.6 122.5 103.6 121.9 104.6 121.4 105.7 120.8 106.7 120.2 107.7 119.7 108.7 119.1 109.7 118.6 110.7 118.1 111.7 117.5 112.8 117.0 113.8 116.5 114.8 116.0 115.8 115.4 116.8 114.9 117.8 114.4 118.8 113.9 119.9 113.4 120.9 112.9 121.9 112.4 122.9 111.9 123.9 111.5 124.9 111.0 126.0 110.5 127.0 110.0 128.0 109.5 129.0 109.1 130.0 108.6 131.0 108.1 132.0 107.7 133.1 107.2 134.1 106.7 135.1 106.3 136.1 105.8 137.1 105.4 138.1 104.9 139.1 104.5 140.2 104.0 141.2 103.6 142.2 103.1 143.2 102.7 144.2 102.3 145.2 101.8 146.3 101.4 147.3 101.0 148.3 100.5 149.3 100.1 150.3 99.7 151.3 99.3 152.3 98.8 153.4 98.4 154.4 98.0 155.4 97.6 156.4 97.2 157.4 96.7 158.4 96.3 159.4 95.9 160.5 95.5 161.5 95.1 162.5 94.7 163.5 94.3 164.5 93.9 165.5 93.5 166.6 93.1 167.6 92.7 168.6 92.3 169.6 91.9 170.6 91.5 171.6 91.1 172.6 90.7 173.7 90.3 174.7 89.9 175.7 89.5 176.7 89.1 177.7 88.8 178.7 88.4 179.7 88.0 180.8 87.6 181.8 87.2 182.8 86.8 183.8 86.5 184.8 86.1 185.8 85.7 186.9 85.3 187.9 84.9 188.9 84.6 189.9 84.2" stroke="#0b62d8" stroke-width="2.1" fill="none" stroke-dasharray="2.7 4.3" stroke-linecap="round"/>
<path d="M75.8 143.9 76.8 142.5 77.8 141.3 78.8 140.3 79.8 139.2 80.9 138.3 81.9 137.4 82.9 136.5 83.9 135.6 84.9 134.7 85.9 133.9 86.9 133.0 87.9 132.2 89.0 131.4 90.0 130.6 91.0 129.8 92.0 129.0 93.0 128.2 94.0 127.4 95.0 126.7 96.0 125.9 97.1 125.2 98.1 124.4 99.1 123.7 100.1 123.0 101.1 122.2 102.1 121.5 103.1 120.8 104.1 120.1 105.2 119.4 106.2 118.6 107.2 117.9 108.2 117.2 109.2 116.5 110.2 115.9 111.2 115.2 112.2 114.5 113.2 113.8 114.3 113.1 115.3 112.4 116.3 111.8 117.3 111.1 118.3 110.4 119.3 109.8 120.3 109.1 121.3 108.4 122.4 107.8 123.4 107.1 124.4 106.5 125.4 105.8 126.4 105.2 127.4 104.5 128.4 103.9 129.4 103.2 130.5 102.6 131.5 101.9 132.5 101.3 133.5 100.7 134.5 100.0 135.5 99.4 136.5 98.8 137.5 98.1 138.6 97.5 139.6 96.9 140.6 96.2 141.6 95.6 142.6 95.0 143.6 94.4 144.6 93.8 145.6 93.1 146.7 92.5 147.7 91.9 148.7 91.3 149.7 90.7 150.7 90.1 151.7 89.5 152.7 88.9 153.7 88.3 154.7 87.7 155.8 87.1 156.8 86.5 157.8 85.9 158.8 85.3 159.8 84.7 160.8 84.1 161.8 83.5 162.8 82.9 163.9 82.3 164.9 81.7 165.9 81.1 166.9 80.5 167.9 79.9 168.9 79.3 169.9 78.7 170.9 78.1 172.0 77.6 173.0 77.0 174.0 76.4 175.0 75.8 176.0 75.2 177.0 74.6 178.0 74.1 179.0 73.5 180.1 72.9 181.1 72.3 182.1 71.8 183.1 71.2 184.1 70.6" stroke="#fa2a2a" stroke-width="2.2" fill="none"/>
<path d="M102.6 146.1 103.6 144.6 104.6 143.4 105.7 142.4 106.7 141.5 107.7 140.6 108.7 139.8 109.7 138.9 110.8 138.2 111.8 137.4 112.8 136.7 113.8 135.9 114.8 135.2 115.8 134.6 116.9 133.9 117.9 133.2 118.9 132.5 119.9 131.9 120.9 131.3 122.0 130.6 123.0 130.0 124.0 129.4 125.0 128.8 126.0 128.2 127.1 127.6 128.1 127.0 129.1 126.4 130.1 125.8 131.1 125.2 132.2 124.7 133.2 124.1 134.2 123.5 135.2 123.0 136.2 122.4 137.2 121.9 138.3 121.3 139.3 120.8 140.3 120.3 141.3 119.7 142.3 119.2 143.4 118.7 144.4 118.1 145.4 117.6 146.4 117.1 147.4 116.6 148.5 116.1 149.5 115.5 150.5 115.0 151.5 114.5 152.5 114.0 153.6 113.5 154.6 113.0 155.6 112.5 156.6 112.0 157.6 111.5 158.7 111.1 159.7 110.6 160.7 110.1 161.7 109.6 162.7 109.1 163.7 108.6 164.8 108.2 165.8 107.7 166.8 107.2 167.8 106.7 168.8 106.3 169.9 105.8 170.9 105.3 171.9 104.9" stroke="#0b62d8" stroke-width="2.1" fill="none" stroke-dasharray="2.7 4.3" stroke-linecap="round"/>
<path d="M102.3 143.8 103.3 142.5 104.3 141.4 105.3 140.5 106.4 139.6 107.4 138.7 108.4 137.9 109.4 137.1 110.4 136.3 111.4 135.5 112.5 134.7 113.5 134.0 114.5 133.2 115.5 132.5 116.5 131.8 117.5 131.1 118.6 130.4 119.6 129.7 120.6 129.0 121.6 128.3 122.6 127.6 123.6 126.9 124.7 126.3 125.7 125.6 126.7 124.9 127.7 124.3 128.7 123.6 129.7 123.0 130.8 122.3 131.8 121.7 132.8 121.1 133.8 120.4 134.8 119.8 135.8 119.2 136.9 118.6 137.9 117.9 138.9 117.3 139.9 116.7 140.9 116.1 141.9 115.5 143.0 114.9 144.0 114.3 145.0 113.7 146.0 113.1 147.0 112.5 148.0 111.9 149.1 111.3 150.1 110.7 151.1 110.1 152.1 109.5 153.1 108.9 154.1 108.4 155.2 107.8 156.2 107.2 157.2 106.6 158.2 106.0 159.2 105.5 160.2 104.9 161.3 104.3 162.3 103.8 163.3 103.2 164.3 102.6" stroke="#fa2a2a" stroke-width="2.2" fill="none"/>
<path d="M332.6 201.7 332.6 200.7 332.6 199.7 332.6 198.7 332.6 197.7 332.6 196.6 332.6 195.6 332.6 194.6 332.6 193.6 332.6 192.6 332.7 191.6 332.7 190.6 332.7 189.6 332.8 188.6 332.8 187.6 332.9 186.6 332.9 185.6 333.0 184.6 333.1 183.6 333.1 182.6 333.2 181.6 333.2 180.6 333.3 179.6 333.4 178.6 333.4 177.7 333.5 176.7 333.5 175.7 333.6 174.7 333.7 173.7 333.7 172.7 333.8 171.7 333.8 170.7 333.9 169.6 333.9 168.6 333.9 167.6 334.0 166.6 334.0 165.6 334.1 164.6 334.1 163.6 334.1 162.6 334.2 161.6 334.2 160.6 334.3 159.6 334.3 158.6 334.4 157.5 334.4 156.5 334.5 155.5 334.6 154.5 334.6 153.5 334.7 152.5 334.8 151.5 334.9 150.5 335.0 149.5 335.2 148.5 335.3 147.5 335.5 146.5 335.6 145.5 335.8 144.6 336.0 143.6 336.2 142.6 336.5 141.6 336.7 140.6 337.0 139.7 337.2 138.7 337.5 137.7 337.9 136.8 338.2 135.9 338.5 134.9 338.9 134.0 339.3 133.1 339.7 132.2 340.1 131.3 340.6 130.4 341.1 129.5 341.5 128.7 342.1 127.8 342.6 127.0 343.1 126.2 343.7 125.4 344.3 124.6 344.9 123.8 345.6 123.1 346.3 122.3 347.0 121.6 347.7 120.9 348.4 120.2 349.1 119.5 349.9 118.9 350.7 118.2 351.4 117.5 352.2 116.9 353.0 116.3 353.8 115.6 354.6 115.0 355.4 114.4 356.2 113.7 357.0 113.1 357.8 112.5 358.6 111.9 359.4 111.3 360.2 110.6 361.0 110.0 361.8 109.4 362.6 108.8 363.4 108.2 364.2 107.6 365.0 107.0 365.8 106.4 366.6 105.8 367.4 105.2 368.2 104.6 369.0 104.0 369.8 103.5 370.6 102.9 371.5 102.3 372.3 101.7 373.1 101.1 373.9 100.6 374.7 100.0 375.5 99.4 376.3 98.8 377.2 98.3 378.0 97.7 378.8 97.1 379.6 96.6 380.4 96.0 381.2 95.4 382.1 94.9 382.9 94.3 383.7 93.8 384.5 93.2 385.4 92.6 386.2 92.1 387.0 91.5 387.9 91.0 388.7 90.4 389.5 89.9 390.4 89.3 391.2 88.8 392.0 88.2 392.9 87.7 393.7 87.1 394.5 86.6 395.4 86.1 396.2 85.5 397.1 85.0 397.9 84.4 398.7 83.9 399.6 83.3 400.4 82.8 401.3 82.3 402.1 81.7 403.0 81.2 403.8 80.6 404.7 80.1 405.5 79.6 406.4 79.0 407.3 78.5 408.1 78.0 409.0 77.4 409.8 76.9 410.7 76.4 411.5 75.8 412.4 75.3 413.2 74.7 414.1 74.2 415.0 73.7 415.8 73.1 416.7 72.6 417.5 72.1 418.4 71.5 419.2 71.0 420.1 70.5 421.0 69.9 421.8 69.4 422.7 68.8 423.5 68.3 424.4 67.8 425.2 67.2 426.1 66.7 426.9 66.2 427.8 65.6 428.6 65.1 429.5 64.5 430.3 64.0 431.2 63.5 432.0 62.9 432.8 62.4 433.7 61.8 434.5 61.3 435.4 60.7 436.2 60.2 437.0 59.6 437.8 59.1 438.7 58.5 439.5 58.0 440.3 57.4 441.1 56.9 442.0 56.3 442.8 55.8 443.6 55.2 444.4 54.7 445.2 54.1 446.0 53.6 446.9 53.0 447.7 52.4 448.5 51.9 449.3 51.3 450.1 50.7 450.9 50.2 451.7 49.6 452.5 49.0 453.3 48.4 454.1 47.9 454.9 47.3 455.7 46.7 456.5 46.1 457.3 45.5 458.1 44.9 458.9 44.3 459.7 43.7 460.6 43.1 461.4 42.5 462.2 41.9 463.0 41.3 463.8 40.7 464.6 40.1 465.4 39.4 466.2 38.8 467.1 38.2 467.9 37.5 468.7 36.9 469.5 36.2 470.4 35.6 471.2 34.9 472.0 34.3 472.9 33.7 473.7 33.0 474.6 32.4 475.4 31.8 476.3 31.2 477.1 30.6 478.0 30.1 478.8 29.6 479.7 29.1 480.6 28.6 481.5 28.2 482.4 27.8 483.3 27.4 484.2 27.1 485.1 26.8 486.0 26.6 486.9 26.4 487.9 26.3 488.8 26.2 489.7 26.2 490.6 26.2 491.6 26.3 492.5 26.5 493.4 26.7 494.2 26.9 495.1 27.3 495.9 27.6 496.8 28.1 497.5 28.6 498.3 29.2 499.1 29.8 499.8 30.5 500.5 31.2 501.2 31.9 501.8 32.7 502.5 33.5 503.1 34.3 503.7 35.2 504.3 36.1 504.9 37.0 505.4 37.9 506.0 38.8 506.5 39.7 507.0 40.6 507.5 41.6 508.0 42.5 508.5 43.4 508.9 44.3 509.4 45.3 509.8 46.2 510.2 47.1 510.6 48.1 511.0 49.0 511.4 49.9 511.8 50.8 512.2 51.8 512.5 52.7 512.9 53.6 513.2 54.6 513.6 55.5 513.9 56.4 514.2 57.4 514.5 58.3 514.8 59.2 515.1 60.2 515.4 61.1 515.7 62.1 516.0 63.0 516.3 64.0 516.5 64.9 516.8 65.9 517.0 66.8 517.3 67.8 517.5 68.7 517.7 69.7 518.0 70.7 518.2 71.7 518.4 72.6 518.6 73.6 518.8 74.6 519.0 75.6 519.2 76.6 519.4 77.6 519.6 78.6 519.8 79.6 519.9 80.6 520.1 81.6 520.2 82.6 520.4 83.6 520.5 84.6 520.6 85.6 520.8 86.6 520.9 87.6 521.0 88.6 521.1 89.6 521.2 90.6 521.2 91.6 521.3 92.6 521.4 93.6 521.4 94.6 521.5 95.6 521.5 96.6 521.5 97.6 521.5 98.6 521.6 99.6 521.5 100.6 521.5 101.6 521.5 102.6 521.5 103.6" stroke="#3a3a3a" stroke-width="1.4" fill="none" stroke-linejoin="round"/>
<path d="M332.6 199.6l2.2 3.5h-4.4zM332.6 191.6l2.2 3.5h-4.4zM332.9 183.6l2.2 3.5h-4.4zM333.4 175.7l2.2 3.5h-4.4zM333.9 167.8l2.2 3.5h-4.4zM334.2 159.8l2.2 3.5h-4.4zM334.6 151.9l2.2 3.5h-4.4zM335.5 144.2l2.2 3.5h-4.4zM337.1 137.0l2.2 3.5h-4.4zM339.4 130.8l2.2 3.5h-4.4zM342.1 125.7l2.2 3.5h-4.4zM345.1 121.5l2.2 3.5h-4.4zM348.3 118.2l2.2 3.5h-4.4zM351.6 115.3l2.2 3.5h-4.4zM355.0 112.6l2.2 3.5h-4.4zM358.3 110.0l2.2 3.5h-4.4zM361.7 107.4l2.2 3.5h-4.4zM365.1 104.9l2.2 3.5h-4.4zM368.4 102.4l2.2 3.5h-4.4zM371.8 99.9l2.2 3.5h-4.4zM375.2 97.5l2.2 3.5h-4.4zM378.6 95.2l2.2 3.5h-4.4zM382.0 92.8l2.2 3.5h-4.4zM385.4 90.5l2.2 3.5h-4.4zM388.8 88.3l2.2 3.5h-4.4zM392.2 86.0l2.2 3.5h-4.4zM395.6 83.8l2.2 3.5h-4.4zM399.0 81.6l2.2 3.5h-4.4zM402.4 79.4l2.2 3.5h-4.4zM405.9 77.3l2.2 3.5h-4.4zM409.3 75.1l2.2 3.5h-4.4zM412.7 73.0l2.2 3.5h-4.4zM416.1 70.9l2.2 3.5h-4.4zM419.5 68.7l2.2 3.5h-4.4zM423.0 66.6l2.2 3.5h-4.4zM426.4 64.4l2.2 3.5h-4.4zM429.8 62.2l2.2 3.5h-4.4zM433.2 60.0l2.2 3.5h-4.4zM436.6 57.8l2.2 3.5h-4.4zM440.0 55.6l2.2 3.5h-4.4zM443.4 53.3l2.2 3.5h-4.4zM446.8 50.9l2.2 3.5h-4.4zM450.2 48.6l2.2 3.5h-4.4zM453.6 46.1l2.2 3.5h-4.4zM457.0 43.7l2.2 3.5h-4.4zM460.3 41.2l2.2 3.5h-4.4zM463.7 38.6l2.2 3.5h-4.4zM467.1 36.1l2.2 3.5h-4.4zM470.4 33.5l2.2 3.5h-4.4zM473.8 30.9l2.2 3.5h-4.4zM477.2 28.5l2.2 3.5h-4.4zM480.6 26.5l2.2 3.5h-4.4zM484.1 25.0l2.2 3.5h-4.4zM487.6 24.2l2.2 3.5h-4.4zM491.2 24.2l2.2 3.5h-4.4zM494.7 25.0l2.2 3.5h-4.4zM498.1 27.0l2.2 3.5h-4.4zM501.4 30.1l2.2 3.5h-4.4zM504.5 34.2l2.2 3.5h-4.4zM507.3 39.0l2.2 3.5h-4.4zM509.9 44.4l2.2 3.5h-4.4zM512.4 50.2l2.2 3.5h-4.4zM514.6 56.4l2.2 3.5h-4.4zM516.6 63.0l2.2 3.5h-4.4zM518.3 70.0l2.2 3.5h-4.4zM519.7 77.3l2.2 3.5h-4.4zM520.8 84.9l2.2 3.5h-4.4zM521.4 92.8l2.2 3.5h-4.4zM521.5 100.8l2.2 3.5h-4.4z" fill="#3a3a3a"/>
<path d="M354.3 201.7 354.4 200.7 354.5 199.7 354.5 198.7 354.6 197.6 354.6 196.6 354.7 195.6 354.7 194.6 354.7 193.6 354.8 192.5 354.8 191.5 354.8 190.5 354.8 189.5 354.9 188.5 354.9 187.5 354.9 186.5 354.9 185.5 354.9 184.5 354.9 183.5 355.0 182.5 355.0 181.5 355.0 180.5 355.0 179.5 355.0 178.5 355.0 177.5 355.0 176.5 355.0 175.5 355.1 174.5 355.1 173.5 355.1 172.5 355.1 171.5 355.1 170.5 355.2 169.5 355.2 168.5 355.2 167.5 355.3 166.5 355.3 165.5 355.3 164.5 355.4 163.5 355.4 162.5 355.5 161.5 355.6 160.5 355.6 159.5 355.7 158.5 355.8 157.5 355.9 156.5 355.9 155.5 356.0 154.5 356.1 153.5 356.2 152.5 356.4 151.5 356.5 150.4 356.6 149.4 356.8 148.4 356.9 147.4 357.1 146.4 357.2 145.4 357.4 144.4 357.6 143.4 357.8 142.3 358.0 141.3 358.2 140.3 358.5 139.3 358.7 138.4 359.0 137.4 359.3 136.4 359.6 135.4 359.9 134.5 360.2 133.5 360.6 132.5 360.9 131.6 361.3 130.7 361.7 129.8 362.1 128.9 362.5 128.0 363.0 127.1 363.5 126.2 364.0 125.3 364.5 124.5 365.0 123.7 365.6 122.9 366.2 122.1 366.8 121.3 367.4 120.5 368.0 119.8 368.7 119.0 369.4 118.3 370.1 117.6 370.9 117.0 371.7 116.3 372.4 115.7 373.2 115.0 374.1 114.4 374.9 113.8 375.7 113.2 376.5 112.6 377.4 112.1 378.2 111.5 379.0 110.9 379.9 110.4 380.7 109.8 381.5 109.2 382.3 108.7 383.1 108.1 383.9 107.5 384.6 106.8 385.3 106.2 386.0 105.5 386.7 104.8 387.4 104.0 388.0 103.3 388.7 102.6 389.4 101.8 390.0 101.1 390.7 100.4 391.4 99.7 392.1 99.0 392.9 98.3 393.6 97.7 394.4 97.0 395.1 96.4 395.9 95.8 396.7 95.2 397.5 94.6 398.3 94.0 399.2 93.4 400.0 92.8 400.8 92.3 401.7 91.7 402.5 91.2 403.4 90.7 404.2 90.1 405.1 89.6 406.0 89.1 406.8 88.6 407.7 88.1 408.6 87.6 409.4 87.1 410.3 86.6 411.2 86.1 412.1 85.6 412.9 85.1 413.8 84.6 414.7 84.1 415.5 83.5 416.4 83.0 417.3 82.5 418.1 82.0 419.0 81.4 419.8 80.9 420.6 80.3 421.4 79.7 422.3 79.1 423.1 78.5 423.9 77.9 424.7 77.3 425.4 76.6 426.2 76.0 427.0 75.3 427.7 74.7 428.5 74.0 429.2 73.3 430.0 72.6 430.8 72.0 431.6 71.3 432.4 70.7 433.2 70.1 434.0 69.5 434.8 68.9 435.7 68.4 436.6 67.8 437.5 67.3 438.5 66.9 439.4 66.5 440.4 66.1 441.4 65.8 442.3 65.6 443.3 65.4 444.3 65.3 445.2 65.3 446.1 65.4 447.0 65.5 447.9 65.7 448.7 66.0 449.5 66.4 450.3 66.9 451.1 67.4 451.8 68.0 452.5 68.7 453.2 69.4 453.8 70.2 454.5 71.0 455.1 71.8 455.7 72.7 456.2 73.6 456.8 74.5 457.4 75.4 457.9 76.3 458.4 77.3 458.9 78.2 459.4 79.1 459.9 80.0 460.4 80.9 460.8 81.8 461.3 82.7 461.7 83.6 462.1 84.6 462.5 85.5 462.9 86.4 463.3 87.3 463.6 88.2 464.0 89.2 464.3 90.1 464.6 91.1 464.8 92.0 465.1 93.0 465.3 93.9 465.6 94.9 465.8 95.9 466.0 96.9 466.1 97.9 466.3 98.9 466.5 99.8 466.6 100.8 466.7 101.8 466.8 102.8 466.9 103.9 467.0 104.9 467.1 105.9 467.2 106.9 467.2 107.9 467.3 108.9 467.3 109.9 467.3 110.9 467.3 112.0 467.3 113.0 467.4 114.0 467.3 115.0 467.3 116.0 467.3 117.0 467.3 118.0 467.3 119.0" stroke="#3a3a3a" stroke-width="1.4" fill="none" stroke-linejoin="round"/>
<path d="M354.3 199.6l2.2 3.5h-4.4zM354.7 191.7l2.2 3.5h-4.4zM354.9 183.7l2.2 3.5h-4.4zM355.0 175.7l2.2 3.5h-4.4zM355.2 167.7l2.2 3.5h-4.4zM355.5 159.7l2.2 3.5h-4.4zM356.1 151.9l2.2 3.5h-4.4zM357.1 144.2l2.2 3.5h-4.4zM358.6 136.9l2.2 3.5h-4.4zM360.6 130.4l2.2 3.5h-4.4zM363.1 124.8l2.2 3.5h-4.4zM366.0 120.2l2.2 3.5h-4.4zM369.2 116.5l2.2 3.5h-4.4zM372.5 113.5l2.2 3.5h-4.4zM375.8 111.0l2.2 3.5h-4.4zM379.2 108.7l2.2 3.5h-4.4zM382.6 106.3l2.2 3.5h-4.4zM385.9 103.5l2.2 3.5h-4.4zM389.1 100.0l2.2 3.5h-4.4zM392.4 96.7l2.2 3.5h-4.4zM395.7 93.9l2.2 3.5h-4.4zM399.1 91.4l2.2 3.5h-4.4zM402.5 89.1l2.2 3.5h-4.4zM405.9 87.1l2.2 3.5h-4.4zM409.3 85.1l2.2 3.5h-4.4zM412.8 83.1l2.2 3.5h-4.4zM416.2 81.0l2.2 3.5h-4.4zM419.6 78.9l2.2 3.5h-4.4zM423.0 76.5l2.2 3.5h-4.4zM426.3 73.8l2.2 3.5h-4.4zM429.6 70.9l2.2 3.5h-4.4zM433.0 68.1l2.2 3.5h-4.4zM436.4 65.9l2.2 3.5h-4.4zM439.9 64.2l2.2 3.5h-4.4zM443.4 63.3l2.2 3.5h-4.4zM446.9 63.4l2.2 3.5h-4.4zM450.4 64.9l2.2 3.5h-4.4zM453.7 67.9l2.2 3.5h-4.4zM456.7 72.2l2.2 3.5h-4.4zM459.5 77.1l2.2 3.5h-4.4zM462.1 82.5l2.2 3.5h-4.4zM464.4 88.5l2.2 3.5h-4.4zM466.1 95.6l2.2 3.5h-4.4zM467.1 103.3l2.2 3.5h-4.4zM467.3 111.2l2.2 3.5h-4.4z" fill="#3a3a3a"/>
<path d="M376.6 201.7 376.7 200.7 376.8 199.7 376.8 198.7 376.9 197.7 377.0 196.7 377.0 195.7 377.1 194.6 377.1 193.6 377.1 192.6 377.2 191.6 377.2 190.6 377.2 189.6 377.2 188.6 377.2 187.6 377.2 186.6 377.2 185.5 377.2 184.5 377.2 183.5 377.2 182.5 377.2 181.5 377.2 180.5 377.2 179.5 377.2 178.4 377.2 177.4 377.1 176.4 377.1 175.4 377.1 174.4 377.1 173.4 377.1 172.3 377.1 171.3 377.1 170.3 377.1 169.3 377.1 168.3 377.1 167.3 377.1 166.2 377.1 165.2 377.1 164.2 377.1 163.2 377.2 162.2 377.2 161.2 377.2 160.2 377.3 159.1 377.3 158.1 377.4 157.1 377.5 156.1 377.5 155.1 377.6 154.1 377.7 153.1 377.8 152.1 377.9 151.1 378.0 150.1 378.2 149.1 378.3 148.1 378.5 147.1 378.6 146.1 378.8 145.1 379.0 144.1 379.2 143.1 379.5 142.1 379.7 141.2 380.0 140.2 380.3 139.3 380.6 138.3 381.0 137.4 381.4 136.5 381.8 135.6 382.2 134.7 382.7 133.9 383.2 133.0 383.8 132.2 384.3 131.4 385.0 130.6 385.6 129.9 386.3 129.2 387.0 128.4 387.8 127.7 388.6 127.1 389.4 126.4 390.2 125.7 391.0 125.1 391.9 124.5 392.7 123.9 393.6 123.3 394.5 122.7 395.3 122.1 396.2 121.5 397.1 120.9 397.9 120.3 398.7 119.7 399.6 119.1 400.4 118.6 401.2 118.0 402.0 117.4 402.8 116.8 403.6 116.2 404.4 115.6 405.2 115.1 406.0 114.5 406.8 113.9 407.5 113.3 408.3 112.7 409.1 112.1 409.9 111.5 410.7 110.9 411.5 110.2 412.2 109.6 413.0 109.0 413.8 108.3 414.6 107.7 415.4 107.0 416.2 106.4 417.1 105.7 417.9 105.0 418.7 104.3 419.5 103.6 420.4 102.9 421.2 102.2 422.1 101.6 423.0 100.9 423.8 100.3 424.7 99.8 425.5 99.4 426.4 99.1 427.2 98.9 428.1 98.9 428.9 98.9 429.7 99.2 430.5 99.5 431.3 99.9 432.0 100.4 432.8 101.0 433.5 101.7 434.1 102.5 434.8 103.3 435.4 104.1 435.9 105.0 436.5 105.9 436.9 106.8 437.4 107.7 437.8 108.7 438.2 109.7 438.5 110.7 438.8 111.7 439.1 112.7 439.4 113.7 439.6 114.8 439.8 115.8 440.0 116.9 440.1 117.9 440.2 118.9 440.3 119.9 440.4 120.9 440.5 122.0 440.5 122.9 440.5 123.9 440.6 124.9 440.5 125.8 440.5 126.7" stroke="#3a3a3a" stroke-width="1.4" fill="none" stroke-linejoin="round"/>
<path d="M376.6 199.6l2.2 3.5h-4.4zM377.1 191.7l2.2 3.5h-4.4zM377.2 183.7l2.2 3.5h-4.4zM377.2 175.7l2.2 3.5h-4.4zM377.1 167.7l2.2 3.5h-4.4zM377.2 159.7l2.2 3.5h-4.4zM377.6 151.8l2.2 3.5h-4.4zM378.6 144.1l2.2 3.5h-4.4zM380.3 137.1l2.2 3.5h-4.4zM382.9 131.5l2.2 3.5h-4.4zM385.9 127.5l2.2 3.5h-4.4zM389.2 124.4l2.2 3.5h-4.4zM392.6 121.9l2.2 3.5h-4.4zM396.0 119.5l2.2 3.5h-4.4zM399.3 117.2l2.2 3.5h-4.4zM402.7 114.8l2.2 3.5h-4.4zM406.1 112.3l2.2 3.5h-4.4zM409.5 109.7l2.2 3.5h-4.4zM412.8 107.1l2.2 3.5h-4.4zM416.2 104.3l2.2 3.5h-4.4zM419.5 101.6l2.2 3.5h-4.4zM422.8 98.9l2.2 3.5h-4.4zM426.3 97.0l2.2 3.5h-4.4zM429.8 97.1l2.2 3.5h-4.4zM433.2 99.4l2.2 3.5h-4.4zM436.3 103.4l2.2 3.5h-4.4zM438.7 109.2l2.2 3.5h-4.4zM440.2 116.4l2.2 3.5h-4.4zM440.5 124.3l2.2 3.5h-4.4z" fill="#3a3a3a"/>
<path d="M333.0 130.5 334.0 129.5 335.0 128.6 336.0 127.8 337.0 126.9 338.1 126.1 339.1 125.3 340.1 124.5 341.1 123.7 342.1 122.9 343.1 122.2 344.1 121.4 345.1 120.7 346.1 119.9 347.2 119.2 348.2 118.5 349.2 117.8 350.2 117.0 351.2 116.3 352.2 115.6 353.2 114.9 354.2 114.2 355.2 113.5 356.3 112.8 357.3 112.2 358.3 111.5 359.3 110.8 360.3 110.1 361.3 109.4 362.3 108.8 363.3 108.1 364.3 107.4 365.4 106.8 366.4 106.1 367.4 105.5 368.4 104.8 369.4 104.2 370.4 103.5 371.4 102.9 372.4 102.2 373.4 101.6 374.5 100.9 375.5 100.3 376.5 99.6 377.5 99.0 378.5 98.4 379.5 97.7 380.5 97.1 381.5 96.5 382.5 95.8 383.5 95.2 384.6 94.6 385.6 94.0 386.6 93.3 387.6 92.7 388.6 92.1 389.6 91.5 390.6 90.9 391.6 90.3 392.6 89.6 393.7 89.0 394.7 88.4 395.7 87.8 396.7 87.2 397.7 86.6 398.7 86.0 399.7 85.4 400.7 84.8 401.7 84.2 402.8 83.6 403.8 83.0 404.8 82.4 405.8 81.8 406.8 81.2 407.8 80.6 408.8 80.0 409.8 79.4 410.8 78.8 411.9 78.2 412.9 77.6 413.9 77.0 414.9 76.4 415.9 75.8 416.9 75.2 417.9 74.7 418.9 74.1 419.9 73.5 421.0 72.9 422.0 72.3 423.0 71.7 424.0 71.1 425.0 70.6 426.0 70.0 427.0 69.4 428.0 68.8 429.0 68.2 430.1 67.7 431.1 67.1 432.1 66.5 433.1 65.9 434.1 65.4 435.1 64.8 436.1 64.2 437.1 63.6 438.1 63.1 439.2 62.5 440.2 61.9 441.2 61.4 442.2 60.8 443.2 60.2 444.2 59.7 445.2 59.1 446.2 58.5 447.2 58.0 448.3 57.4 449.3 56.8 450.3 56.3 451.3 55.7 452.3 55.1 453.3 54.6 454.3 54.0 455.3 53.4 456.3 52.9 457.4 52.3 458.4 51.8 459.4 51.2 460.4 50.6 461.4 50.1 462.4 49.5 463.4 49.0 464.4 48.4 465.4 47.9 466.4 47.3 467.5 46.8 468.5 46.2 469.5 45.6 470.5 45.1 471.5 44.5 472.5 44.0 473.5 43.4 474.5 42.9 475.5 42.3 476.6 41.8 477.6 41.2 478.6 40.7 479.6 40.1 480.6 39.6 481.6 39.0 482.6 38.5 483.6 37.9 484.6 37.4 485.7 36.9 486.7 36.3 487.7 35.8 488.7 35.2 489.7 34.7 490.7 34.1 491.7 33.6 492.7 33.0 493.7 32.5 494.8 32.0 495.8 31.4 496.8 30.9 497.8 30.3 498.8 29.8 499.8 29.3 500.8 28.7 501.8 28.2 502.8 27.6 503.9 27.1 504.9 26.6 505.9 26.0 506.9 25.5 507.9 25.0" stroke="#0b62d8" stroke-width="2.1" fill="none" stroke-dasharray="2.7 4.3" stroke-linecap="round"/>
<path d="M331.9 131.6 332.9 130.5 333.9 129.5 334.9 128.5 335.9 127.6 337.0 126.7 338.0 125.8 339.0 124.9 340.0 124.0 341.0 123.1 342.0 122.3 343.0 121.4 344.0 120.6 345.1 119.8 346.1 118.9 347.1 118.1 348.1 117.3 349.1 116.5 350.1 115.7 351.1 114.8 352.1 114.0 353.1 113.2 354.2 112.5 355.2 111.7 356.2 110.9 357.2 110.1 358.2 109.3 359.2 108.5 360.2 107.8 361.2 107.0 362.3 106.2 363.3 105.4 364.3 104.7 365.3 103.9 366.3 103.1 367.3 102.4 368.3 101.6 369.3 100.9 370.4 100.1 371.4 99.4 372.4 98.6 373.4 97.9 374.4 97.1 375.4 96.4 376.4 95.6 377.4 94.9 378.4 94.1 379.5 93.4 380.5 92.6 381.5 91.9 382.5 91.2 383.5 90.4 384.5 89.7 385.5 89.0 386.5 88.2 387.6 87.5 388.6 86.8 389.6 86.1 390.6 85.3 391.6 84.6 392.6 83.9 393.6 83.2 394.6 82.4 395.6 81.7 396.7 81.0 397.7 80.3 398.7 79.6 399.7 78.8 400.7 78.1 401.7 77.4 402.7 76.7 403.7 76.0 404.8 75.3 405.8 74.6 406.8 73.9 407.8 73.1 408.8 72.4 409.8 71.7 410.8 71.0 411.8 70.3 412.9 69.6 413.9 68.9 414.9 68.2 415.9 67.5 416.9 66.8 417.9 66.1 418.9 65.4 419.9 64.7 420.9 64.0 422.0 63.3 423.0 62.6 424.0 61.9 425.0 61.2 426.0 60.5 427.0 59.8 428.0 59.1 429.0 58.4 430.1 57.7 431.1 57.0 432.1 56.4 433.1 55.7 434.1 55.0 435.1 54.3 436.1 53.6 437.1 52.9 438.1 52.2 439.2 51.5 440.2 50.8 441.2 50.2 442.2 49.5 443.2 48.8 444.2 48.1 445.2 47.4 446.2 46.7 447.3 46.1 448.3 45.4 449.3 44.7 450.3 44.0 451.3 43.3 452.3 42.7 453.3 42.0 454.3 41.3 455.3 40.6 456.4 39.9 457.4 39.3 458.4 38.6 459.4 37.9 460.4 37.2 461.4 36.6 462.4 35.9 463.4 35.2 464.5 34.5 465.5 33.9 466.5 33.2 467.5 32.5 468.5 31.8 469.5 31.2 470.5 30.5 471.5 29.8 472.6 29.2 473.6 28.5 474.6 27.8 475.6 27.2 476.6 26.5 477.6 25.8 478.6 25.2 479.6 24.5 480.6 23.8 481.7 23.2 482.7 22.5 483.7 21.8 484.7 21.2 485.7 20.5 486.7 19.8 487.7 19.2 488.7 18.5 489.8 17.8 490.8 17.2 491.8 16.5 492.8 15.8 493.8 15.2" stroke="#fa2a2a" stroke-width="2.2" fill="none"/>
<path d="M355.6 131.4 356.6 130.7 357.6 129.9 358.6 129.2 359.7 128.4 360.7 127.7 361.7 127.0 362.7 126.2 363.7 125.5 364.7 124.8 365.7 124.1 366.7 123.4 367.8 122.7 368.8 122.0 369.8 121.3 370.8 120.6 371.8 119.9 372.8 119.3 373.8 118.6 374.8 117.9 375.9 117.2 376.9 116.6 377.9 115.9 378.9 115.2 379.9 114.6 380.9 113.9 381.9 113.2 382.9 112.6 384.0 111.9 385.0 111.3 386.0 110.6 387.0 110.0 388.0 109.3 389.0 108.7 390.0 108.0 391.1 107.4 392.1 106.7 393.1 106.1 394.1 105.4 395.1 104.8 396.1 104.2 397.1 103.5 398.1 102.9 399.2 102.3 400.2 101.6 401.2 101.0 402.2 100.4 403.2 99.7 404.2 99.1 405.2 98.5 406.2 97.9 407.3 97.2 408.3 96.6 409.3 96.0 410.3 95.4 411.3 94.7 412.3 94.1 413.3 93.5 414.3 92.9 415.4 92.3 416.4 91.6 417.4 91.0 418.4 90.4 419.4 89.8 420.4 89.2 421.4 88.6 422.4 88.0 423.5 87.3 424.5 86.7 425.5 86.1 426.5 85.5 427.5 84.9 428.5 84.3 429.5 83.7 430.6 83.1 431.6 82.5 432.6 81.9 433.6 81.3 434.6 80.7 435.6 80.1 436.6 79.5 437.6 78.9 438.7 78.3 439.7 77.7 440.7 77.1 441.7 76.5 442.7 75.9 443.7 75.3 444.7 74.7 445.7 74.1 446.8 73.5 447.8 72.9 448.8 72.3 449.8 71.7 450.8 71.1 451.8 70.5 452.8 69.9 453.8 69.3 454.9 68.7 455.9 68.1 456.9 67.5 457.9 67.0" stroke="#0b62d8" stroke-width="2.1" fill="none" stroke-dasharray="2.7 4.3" stroke-linecap="round"/>
<path d="M354.4 133.7 355.4 132.1 356.4 130.9 357.4 129.8 358.5 128.7 359.5 127.7 360.5 126.7 361.5 125.8 362.5 124.8 363.5 123.9 364.5 123.0 365.6 122.1 366.6 121.2 367.6 120.4 368.6 119.5 369.6 118.7 370.6 117.8 371.6 117.0 372.7 116.2 373.7 115.4 374.7 114.6 375.7 113.8 376.7 113.0 377.7 112.2 378.7 111.4 379.8 110.6 380.8 109.9 381.8 109.1 382.8 108.3 383.8 107.6 384.8 106.8 385.8 106.1 386.9 105.3 387.9 104.6 388.9 103.9 389.9 103.1 390.9 102.4 391.9 101.7 392.9 100.9 394.0 100.2 395.0 99.5 396.0 98.8 397.0 98.1 398.0 97.4 399.0 96.7 400.0 96.0 401.1 95.3 402.1 94.6 403.1 93.9 404.1 93.2 405.1 92.5 406.1 91.8 407.1 91.1 408.2 90.4 409.2 89.7 410.2 89.1 411.2 88.4 412.2 87.7 413.2 87.0 414.2 86.4 415.3 85.7 416.3 85.0 417.3 84.3 418.3 83.7 419.3 83.0 420.3 82.4 421.3 81.7 422.4 81.0 423.4 80.4 424.4 79.7 425.4 79.1 426.4 78.4 427.4 77.8 428.4 77.1 429.5 76.5 430.5 75.8 431.5 75.2 432.5 74.5 433.5 73.9 434.5 73.2 435.5 72.6 436.6 72.0 437.6 71.3 438.6 70.7 439.6 70.1 440.6 69.4 441.6 68.8 442.6 68.2 443.7 67.5 444.7 66.9 445.7 66.3 446.7 65.6 447.7 65.0 448.7 64.4 449.7 63.8 450.8 63.2 451.8 62.5 452.8 61.9 453.8 61.3" stroke="#fa2a2a" stroke-width="2.2" fill="none"/>
<path d="M377.7 133.1 378.7 132.5 379.8 131.8 380.8 131.1 381.8 130.5 382.9 129.8 383.9 129.1 384.9 128.4 386.0 127.7 387.0 127.0 388.0 126.3 389.1 125.6 390.1 124.8 391.1 124.1 392.2 123.4 393.2 122.7 394.2 122.0 395.3 121.3 396.3 120.5 397.3 119.8 398.4 119.1 399.4 118.4 400.4 117.7 401.5 116.9 402.5 116.2 403.5 115.5 404.6 114.7 405.6 114.0 406.7 113.3 407.7 112.5 408.7 111.8 409.8 111.1 410.8 110.3 411.8 109.6 412.9 108.9 413.9 108.1 414.9 107.4 416.0 106.7 417.0 105.9 418.0 105.2 419.1 104.4 420.1 103.7 421.1 103.0 422.2 102.2 423.2 101.5 424.2 100.7 425.3 100.0 426.3 99.2 427.3 98.5 428.4 97.8 429.4 97.0 430.4 96.3 431.5 95.5 432.5 94.8" stroke="#0b62d8" stroke-width="2.1" fill="none" stroke-dasharray="2.7 4.3" stroke-linecap="round"/>
<path d="M377.1 134.9 378.1 133.8 379.2 132.8 380.2 131.8 381.2 130.9 382.2 130.0 383.3 129.1 384.3 128.3 385.3 127.4 386.3 126.6 387.4 125.7 388.4 124.9 389.4 124.1 390.4 123.3 391.5 122.5 392.5 121.6 393.5 120.8 394.5 120.1 395.6 119.3 396.6 118.5 397.6 117.7 398.6 116.9 399.7 116.1 400.7 115.4 401.7 114.6 402.7 113.8 403.8 113.1 404.8 112.3 405.8 111.5 406.9 110.8 407.9 110.0 408.9 109.3 409.9 108.5 411.0 107.8 412.0 107.0 413.0 106.3 414.0 105.5 415.1 104.8 416.1 104.1 417.1 103.3 418.1 102.6 419.2 101.9 420.2 101.1 421.2 100.4 422.2 99.7 423.3 99.0 424.3 98.2 425.3 97.5 426.3 96.8 427.4 96.1 428.4 95.3 429.4 94.6 430.4 93.9 431.5 93.2 432.5 92.5" stroke="#fa2a2a" stroke-width="2.2" fill="none"/>
<path d="M47.4 456.0 47.5 455.0 47.5 454.0 47.6 453.0 47.7 452.0 47.7 451.0 47.8 450.0 47.8 449.0 47.9 448.0 47.9 447.0 47.9 446.0 48.0 445.0 48.0 444.0 48.0 443.0 48.0 442.0 48.0 441.0 48.1 440.0 48.1 439.0 48.1 438.0 48.1 437.0 48.1 436.0 48.1 435.0 48.1 434.0 48.1 433.0 48.1 431.9 48.1 430.9 48.1 429.9 48.1 428.9 48.1 427.9 48.2 426.9 48.2 425.9 48.2 424.9 48.2 423.9 48.2 422.8 48.2 421.8 48.2 420.8 48.2 419.8 48.3 418.8 48.3 417.8 48.3 416.8 48.3 415.8 48.4 414.8 48.4 413.8 48.4 412.8 48.5 411.7 48.5 410.7 48.6 409.7 48.6 408.7 48.7 407.7 48.8 406.7 48.8 405.7 48.9 404.7 49.0 403.7 49.1 402.7 49.2 401.7 49.3 400.7 49.4 399.7 49.5 398.7 49.7 397.7 49.8 396.7 49.9 395.8 50.1 394.8 50.2 393.8 50.4 392.8 50.6 391.8 50.8 390.8 50.9 389.9 51.1 388.9 51.4 387.9 51.6 386.9 51.8 386.0 52.1 385.0 52.3 384.0 52.6 383.1 52.9 382.1 53.2 381.2 53.5 380.2 53.8 379.3 54.1 378.4 54.5 377.4 54.9 376.5 55.3 375.6 55.7 374.7 56.1 373.8 56.6 372.9 57.0 372.1 57.5 371.2 58.0 370.4 58.6 369.5 59.1 368.7 59.7 367.9 60.3 367.1 60.9 366.3 61.5 365.5 62.2 364.7 62.9 363.9 63.6 363.2 64.3 362.5 65.0 361.7 65.7 361.0 66.4 360.3 67.2 359.6 68.0 358.9 68.7 358.3 69.5 357.6 70.3 357.0 71.1 356.3 71.9 355.7 72.7 355.1 73.6 354.5 74.4 353.9 75.2 353.3 76.1 352.8 76.9 352.2 77.8 351.7 78.6 351.1 79.5 350.6 80.3 350.1 81.2 349.5 82.0 349.0 82.9 348.5 83.8 348.0 84.6 347.5 85.5 347.0 86.3 346.5 87.2 346.0 88.0 345.5 88.9 345.0 89.7 344.5 90.6 343.9 91.4 343.4 92.3 342.9 93.1 342.4 93.9 341.8 94.8 341.3 95.6 340.8 96.4 340.2 97.2 339.6 98.0 339.1 98.8 338.5 99.6 337.9 100.3 337.3 101.1 336.6 101.9 336.0 102.6 335.3 103.3 334.7 104.1 334.0 104.8 333.3 105.5 332.7 106.3 332.0 107.0 331.3 107.7 330.7 108.5 330.0 109.3 329.4 110.0 328.8 110.8 328.2 111.6 327.6 112.5 327.1 113.3 326.6 114.2 326.1 115.0 325.6 115.9 325.1 116.8 324.6 117.7 324.2 118.6 323.7 119.5 323.2 120.4 322.8 121.3 322.3 122.2 321.9 123.0 321.4 123.9 320.9 124.8 320.5 125.7 320.0 126.6 319.5 127.5 319.1 128.4 318.6 129.3 318.1 130.1 317.6 131.0 317.1 131.9 316.7 132.8 316.2 133.6 315.7 134.5 315.2 135.4 314.7 136.2 314.2 137.1 313.7 137.9 313.2 138.8 312.6 139.6 312.1 140.5 311.6 141.3 311.1 142.2 310.6 143.0 310.0 143.9 309.5 144.7 309.0 145.6 308.4 146.4 307.9 147.3 307.4 148.1 306.8 149.0 306.3 149.8 305.7 150.6 305.2 151.5 304.6 152.3 304.1 153.2 303.5 154.0 302.9 154.8 302.4 155.7 301.8 156.5 301.3 157.4 300.7 158.2 300.1 159.1 299.6 159.9 299.0 160.8 298.5 161.6 297.9 162.5 297.4 163.3 296.9 164.2 296.4 165.0 295.8 165.9 295.3 166.8 294.8 167.7 294.3 168.5 293.9 169.4 293.4 170.3 292.9 171.2 292.5 172.1 292.0 173.0 291.6 173.9 291.2 174.8 290.8 175.7 290.5 176.7 290.1 177.6 289.8 178.6 289.5 179.5 289.2 180.5 288.9 181.4 288.6 182.4 288.4 183.4 288.1 184.4 287.9 185.4 287.8 186.4 287.6 187.4 287.5 188.4 287.4 189.4 287.3 190.4 287.3 191.4 287.3 192.4 287.3 193.4 287.4 194.4 287.4 195.4 287.6 196.4 287.7 197.4 287.9 198.3 288.2 199.3 288.4 200.2 288.8 201.2 289.1 202.1 289.5 202.9 290.0 203.8 290.4 204.7 291.0 205.5 291.5 206.3 292.1 207.1 292.7 207.9 293.4 208.6 294.0 209.4 294.7 210.1 295.5 210.8 296.2 211.4 297.0 212.1 297.8 212.7 298.6 213.3 299.4 213.9 300.3 214.5 301.1 215.0 302.0 215.5 302.8 216.0 303.7 216.5 304.6 216.9 305.5 217.4 306.4 217.8 307.3 218.1 308.2 218.5 309.2 218.9 310.1 219.2 311.0 219.5 312.0 219.8 313.0 220.1 313.9 220.3 314.9 220.6 315.8 220.8 316.8 221.0 317.8 221.2 318.8 221.4 319.8 221.6 320.8 221.7 321.8 221.9 322.8 222.0 323.8 222.1 324.8 222.2 325.8 222.4 326.8 222.4 327.8 222.5 328.8 222.6 329.8 222.7 330.8 222.7 331.8 222.8 332.8 222.8 333.8 222.8 334.8 222.9 335.8 222.9 336.8 222.9 337.8 222.9 338.8" stroke="#3a3a3a" stroke-width="1.4" fill="none" stroke-linejoin="round"/>
<path d="M47.4 453.9l2.2 3.5h-4.4zM47.9 445.9l2.2 3.5h-4.4zM48.1 437.9l2.2 3.5h-4.4zM48.1 429.9l2.2 3.5h-4.4zM48.2 421.9l2.2 3.5h-4.4zM48.3 413.9l2.2 3.5h-4.4zM48.7 405.9l2.2 3.5h-4.4zM49.4 398.0l2.2 3.5h-4.4zM50.5 390.2l2.2 3.5h-4.4zM52.1 382.7l2.2 3.5h-4.4zM54.4 375.6l2.2 3.5h-4.4zM57.4 369.3l2.2 3.5h-4.4zM61.1 364.0l2.2 3.5h-4.4zM65.1 359.5l2.2 3.5h-4.4zM69.4 355.6l2.2 3.5h-4.4zM73.8 352.2l2.2 3.5h-4.4zM78.4 349.2l2.2 3.5h-4.4zM82.9 346.4l2.2 3.5h-4.4zM87.6 343.7l2.2 3.5h-4.4zM92.1 340.9l2.2 3.5h-4.4zM96.7 337.9l2.2 3.5h-4.4zM101.1 334.5l2.2 3.5h-4.4zM105.4 330.7l2.2 3.5h-4.4zM109.8 326.9l2.2 3.5h-4.4zM114.3 323.9l2.2 3.5h-4.4zM118.9 321.4l2.2 3.5h-4.4zM123.6 319.0l2.2 3.5h-4.4zM128.3 316.5l2.2 3.5h-4.4zM132.9 314.0l2.2 3.5h-4.4zM137.5 311.3l2.2 3.5h-4.4zM142.1 308.5l2.2 3.5h-4.4zM146.7 305.6l2.2 3.5h-4.4zM151.3 302.7l2.2 3.5h-4.4zM155.8 299.7l2.2 3.5h-4.4zM160.3 296.7l2.2 3.5h-4.4zM164.9 293.8l2.2 3.5h-4.4zM169.6 291.2l2.2 3.5h-4.4zM174.3 289.0l2.2 3.5h-4.4zM179.0 287.2l2.2 3.5h-4.4zM183.9 285.9l2.2 3.5h-4.4zM188.8 285.3l2.2 3.5h-4.4zM193.7 285.3l2.2 3.5h-4.4zM198.5 286.1l2.2 3.5h-4.4zM203.3 288.0l2.2 3.5h-4.4zM207.8 291.2l2.2 3.5h-4.4zM211.9 295.5l2.2 3.5h-4.4zM215.5 300.8l2.2 3.5h-4.4zM218.5 307.1l2.2 3.5h-4.4zM220.7 314.3l2.2 3.5h-4.4zM222.1 322.0l2.2 3.5h-4.4zM222.7 329.9l2.2 3.5h-4.4z" fill="#3a3a3a"/>
<path d="M84.6 456.0 84.6 455.0 84.7 454.0 84.8 453.0 84.9 452.0 84.9 451.0 85.0 450.0 85.1 449.0 85.2 448.0 85.2 447.0 85.3 446.0 85.3 445.0 85.4 444.0 85.5 443.0 85.5 442.0 85.6 441.0 85.7 440.0 85.7 439.0 85.8 438.0 85.8 436.9 85.9 435.9 86.0 434.9 86.0 433.9 86.1 432.9 86.2 431.9 86.2 430.9 86.3 429.9 86.4 428.9 86.5 427.9 86.5 426.9 86.6 425.9 86.7 424.8 86.8 423.8 86.9 422.8 87.0 421.8 87.1 420.8 87.2 419.8 87.3 418.8 87.4 417.8 87.5 416.8 87.6 415.8 87.8 414.8 87.9 413.8 88.0 412.8 88.2 411.8 88.3 410.8 88.5 409.8 88.6 408.8 88.8 407.8 89.0 406.9 89.1 405.9 89.3 404.9 89.5 403.9 89.7 402.9 89.9 401.9 90.2 401.0 90.4 400.0 90.6 399.0 90.9 398.0 91.1 397.1 91.4 396.1 91.6 395.1 91.9 394.2 92.2 393.2 92.5 392.2 92.8 391.3 93.1 390.3 93.4 389.4 93.8 388.4 94.1 387.5 94.5 386.5 94.9 385.6 95.3 384.7 95.6 383.7 96.1 382.8 96.5 381.9 96.9 380.9 97.3 380.0 97.8 379.1 98.3 378.2 98.8 377.3 99.3 376.4 99.8 375.5 100.3 374.7 100.9 373.8 101.4 373.0 102.0 372.2 102.6 371.4 103.2 370.6 103.9 369.9 104.6 369.1 105.2 368.4 106.0 367.8 106.7 367.1 107.5 366.5 108.2 366.0 109.0 365.4 109.9 364.9 110.7 364.5 111.6 364.0 112.6 363.7 113.5 363.3 114.5 363.0 115.5 362.8 116.5 362.5 117.5 362.3 118.6 362.1 119.6 361.9 120.6 361.7 121.6 361.4 122.6 361.1 123.6 360.8 124.5 360.4 125.4 360.0 126.3 359.6 127.2 359.1 128.0 358.5 128.8 358.0 129.7 357.4 130.5 356.8 131.2 356.2 132.0 355.6 132.8 354.9 133.6 354.3 134.4 353.7 135.2 353.1 135.9 352.4 136.7 351.8 137.5 351.2 138.3 350.5 139.1 349.9 139.9 349.3 140.6 348.7 141.4 348.0 142.2 347.4 143.0 346.8 143.8 346.2 144.6 345.6 145.4 345.0 146.2 344.4 147.0 343.8 147.9 343.3 148.7 342.7 149.5 342.1 150.3 341.6 151.2 341.0 152.0 340.5 152.9 340.0 153.7 339.4 154.6 338.9 155.4 338.4 156.3 337.9 157.2 337.5 158.0 337.0 158.9 336.5 159.8 336.1 160.7 335.6 161.6 335.2 162.5 334.7 163.4 334.3 164.3 333.9 165.3 333.5 166.2 333.0 167.1 332.6 168.1 332.2 169.0 331.9 170.0 331.5 170.9 331.1 171.9 330.7 172.9 330.4 173.9 330.0 174.8 329.7 175.8 329.3 176.8 329.0 177.8 328.7 178.8 328.5 179.8 328.2 180.7 328.0 181.7 327.9 182.6 327.8 183.5 327.8 184.4 327.9 185.3 328.0 186.1 328.2 186.9 328.4 187.7 328.8 188.4 329.3 189.1 329.8 189.7 330.5 190.4 331.3 190.9 332.1 191.4 333.1 191.9 334.1 192.4 335.2 192.8 336.3 193.1 337.5 193.5 338.6 193.8 339.7 194.0 340.8 194.3 341.9 194.5 342.9 194.7 343.8 194.8 344.8 195.0 345.7 195.1 346.5 195.2 347.4 195.3 348.3 195.4 349.2 195.5 350.2 195.5 351.2 195.6 352.2 195.6 353.4" stroke="#3a3a3a" stroke-width="1.4" fill="none" stroke-linejoin="round"/>
<path d="M84.6 453.9l2.2 3.5h-4.4zM85.2 445.9l2.2 3.5h-4.4zM85.7 438.0l2.2 3.5h-4.4zM86.2 430.0l2.2 3.5h-4.4zM86.8 422.1l2.2 3.5h-4.4zM87.6 414.2l2.2 3.5h-4.4zM88.7 406.4l2.2 3.5h-4.4zM90.2 398.8l2.2 3.5h-4.4zM92.1 391.4l2.2 3.5h-4.4zM94.5 384.5l2.2 3.5h-4.4zM97.3 377.9l2.2 3.5h-4.4zM100.6 372.1l2.2 3.5h-4.4zM104.5 367.1l2.2 3.5h-4.4zM108.8 363.5l2.2 3.5h-4.4zM113.5 361.2l2.2 3.5h-4.4zM118.4 360.0l2.2 3.5h-4.4zM123.2 358.8l2.2 3.5h-4.4zM127.9 356.5l2.2 3.5h-4.4zM132.4 353.2l2.2 3.5h-4.4zM136.8 349.7l2.2 3.5h-4.4zM141.2 346.2l2.2 3.5h-4.4zM145.6 342.8l2.2 3.5h-4.4zM150.1 339.6l2.2 3.5h-4.4zM154.7 336.8l2.2 3.5h-4.4zM159.3 334.2l2.2 3.5h-4.4zM164.0 331.9l2.2 3.5h-4.4zM168.8 329.9l2.2 3.5h-4.4zM173.5 328.0l2.2 3.5h-4.4zM178.3 326.5l2.2 3.5h-4.4zM183.2 325.7l2.2 3.5h-4.4zM188.0 326.9l2.2 3.5h-4.4zM191.8 331.8l2.2 3.5h-4.4zM194.1 338.9l2.2 3.5h-4.4zM195.3 346.6l2.2 3.5h-4.4z" fill="#3a3a3a"/>
<path d="M121.9 456.2 121.9 455.2 122.0 454.2 122.0 453.2 122.0 452.2 122.1 451.2 122.1 450.2 122.2 449.1 122.2 448.1 122.3 447.1 122.4 446.1 122.4 445.1 122.5 444.1 122.6 443.1 122.7 442.1 122.7 441.1 122.8 440.1 122.9 439.1 123.0 438.1 123.1 437.1 123.2 436.1 123.3 435.1 123.4 434.1 123.5 433.1 123.7 432.1 123.8 431.1 123.9 430.1 124.0 429.1 124.2 428.0 124.3 427.0 124.4 426.0 124.6 425.0 124.7 424.0 124.9 423.0 125.0 422.0 125.2 421.0 125.3 420.1 125.5 419.1 125.7 418.1 125.8 417.1 126.0 416.1 126.2 415.1 126.4 414.1 126.5 413.1 126.7 412.1 126.9 411.1 127.1 410.1 127.3 409.1 127.5 408.1 127.7 407.1 127.9 406.1 128.1 405.1 128.3 404.2 128.5 403.2 128.8 402.2 129.0 401.2 129.2 400.2 129.4 399.2 129.7 398.2 129.9 397.2 130.1 396.3 130.4 395.3 130.6 394.3 130.9 393.3 131.2 392.4 131.5 391.4 131.8 390.5 132.1 389.6 132.5 388.7 132.9 387.8 133.4 386.9 133.9 386.1 134.4 385.3 135.0 384.5 135.6 383.8 136.3 383.1 137.0 382.3 137.7 381.6 138.4 381.0 139.1 380.3 139.8 379.6 140.6 378.9 141.3 378.2 142.0 377.5 142.8 376.8 143.5 376.1 144.2 375.4 145.0 374.7 145.7 374.0 146.4 373.3 147.2 372.6 147.9 371.9 148.7 371.3 149.4 370.6 150.2 370.0 150.9 369.3 151.7 368.7 152.5 368.1 153.3 367.5 154.1 366.9 154.9 366.3 155.7 365.8 156.6 365.3 157.4 364.7 158.3 364.2 159.1 363.7 160.0 363.2 160.9 362.7 161.8 362.3 162.7 361.8 163.6 361.4 164.5 360.9 165.5 360.5 166.4 360.1 167.4 359.7 168.4 359.3 169.3 359.0 170.3 358.6 171.4 358.2 172.4 357.9 173.4 357.6 174.4 357.4 175.4 357.2 176.4 357.0 177.4 356.9 178.3 356.9 179.3 356.9 180.2 357.0 181.1 357.2 181.9 357.5 182.8 357.8 183.6 358.3 184.3 358.8 185.0 359.4 185.7 360.1 186.3 360.8 186.9 361.6 187.5 362.5 188.0 363.4 188.4 364.3 188.9 365.3 189.3 366.3 189.6 367.3 189.9 368.3 190.1 369.3 190.4 370.4 190.5 371.4 190.7 372.5 190.7 373.5 190.8 374.5 190.9 375.5 190.9 376.6 190.9 377.6 190.9 378.6 190.9 379.6 190.9 380.6 190.9 381.6 190.9 382.6 190.9 383.5 191.0 384.5 191.1 385.5" stroke="#3a3a3a" stroke-width="1.4" fill="none" stroke-linejoin="round"/>
<path d="M121.9 454.1l2.2 3.5h-4.4zM122.2 446.1l2.2 3.5h-4.4zM122.8 438.2l2.2 3.5h-4.4zM123.6 430.3l2.2 3.5h-4.4zM124.6 422.5l2.2 3.5h-4.4zM125.9 414.7l2.2 3.5h-4.4zM127.3 407.1l2.2 3.5h-4.4zM128.9 399.5l2.2 3.5h-4.4zM130.7 392.0l2.2 3.5h-4.4zM133.2 385.2l2.2 3.5h-4.4zM137.0 380.2l2.2 3.5h-4.4zM141.2 376.2l2.2 3.5h-4.4zM145.4 372.1l2.2 3.5h-4.4zM149.7 368.2l2.2 3.5h-4.4zM154.1 364.8l2.2 3.5h-4.4zM158.7 361.9l2.2 3.5h-4.4zM163.4 359.4l2.2 3.5h-4.4zM168.1 357.3l2.2 3.5h-4.4zM172.9 355.7l2.2 3.5h-4.4zM177.8 354.8l2.2 3.5h-4.4zM182.6 355.6l2.2 3.5h-4.4zM186.9 359.5l2.2 3.5h-4.4zM189.8 365.8l2.2 3.5h-4.4zM190.9 373.6l2.2 3.5h-4.4zM190.9 381.6l2.2 3.5h-4.4z" fill="#3a3a3a"/>
<path d="M47.3 378.7 48.3 377.7 49.3 376.8 50.3 375.9 51.3 375.0 52.3 374.2 53.3 373.4 54.3 372.6 55.3 371.8 56.4 371.0 57.4 370.3 58.4 369.6 59.4 368.8 60.4 368.1 61.4 367.5 62.4 366.8 63.4 366.1 64.4 365.4 65.4 364.8 66.4 364.1 67.4 363.5 68.4 362.9 69.4 362.3 70.4 361.6 71.5 361.0 72.5 360.4 73.5 359.8 74.5 359.2 75.5 358.6 76.5 358.1 77.5 357.5 78.5 356.9 79.5 356.4 80.5 355.8 81.5 355.2 82.5 354.7 83.5 354.1 84.5 353.6 85.5 353.0 86.5 352.5 87.5 352.0 88.6 351.4 89.6 350.9 90.6 350.4 91.6 349.9 92.6 349.4 93.6 348.8 94.6 348.3 95.6 347.8 96.6 347.3 97.6 346.8 98.6 346.3 99.6 345.8 100.6 345.3 101.6 344.8 102.6 344.4 103.7 343.9 104.7 343.4 105.7 342.9 106.7 342.4 107.7 341.9 108.7 341.5 109.7 341.0 110.7 340.5 111.7 340.1 112.7 339.6 113.7 339.1 114.7 338.7 115.7 338.2 116.7 337.7 117.7 337.3 118.7 336.8 119.8 336.4 120.8 335.9 121.8 335.5 122.8 335.0 123.8 334.6 124.8 334.1 125.8 333.7 126.8 333.3 127.8 332.8 128.8 332.4 129.8 331.9 130.8 331.5 131.8 331.1 132.8 330.6 133.8 330.2 134.8 329.8 135.9 329.4 136.9 328.9 137.9 328.5 138.9 328.1 139.9 327.7 140.9 327.2 141.9 326.8 142.9 326.4 143.9 326.0 144.9 325.6 145.9 325.1 146.9 324.7 147.9 324.3 148.9 323.9 149.9 323.5 150.9 323.1 151.9 322.7 153.0 322.3 154.0 321.9 155.0 321.5 156.0 321.1 157.0 320.7 158.0 320.3 159.0 319.9 160.0 319.5 161.0 319.1 162.0 318.7 163.0 318.3 164.0 317.9 165.0 317.5 166.0 317.1 167.0 316.7 168.1 316.3 169.1 315.9 170.1 315.5 171.1 315.1 172.1 314.7 173.1 314.4 174.1 314.0 175.1 313.6 176.1 313.2 177.1 312.8 178.1 312.4 179.1 312.1 180.1 311.7 181.1 311.3 182.1 310.9 183.1 310.5 184.2 310.2 185.2 309.8 186.2 309.4 187.2 309.0 188.2 308.7 189.2 308.3 190.2 307.9 191.2 307.6 192.2 307.2 193.2 306.8 194.2 306.4 195.2 306.1 196.2 305.7 197.2 305.3 198.2 305.0 199.2 304.6 200.2 304.2 201.3 303.9 202.3 303.5 203.3 303.2 204.3 302.8 205.3 302.4 206.3 302.1 207.3 301.7 208.3 301.3 209.3 301.0 210.3 300.6 211.3 300.3 212.3 299.9 213.3 299.6 214.3 299.2 215.3 298.9 216.4 298.5 217.4 298.1 218.4 297.8 219.4 297.4 220.4 297.1 221.4 296.7 222.4 296.4 223.4 296.0 224.4 295.7" stroke="#0b62d8" stroke-width="2.1" fill="none" stroke-dasharray="2.7 4.3" stroke-linecap="round"/>
<path d="M47.3 382.5 48.3 381.2 49.3 380.0 50.3 378.8 51.3 377.6 52.4 376.4 53.4 375.3 54.4 374.2 55.4 373.2 56.4 372.1 57.4 371.1 58.4 370.1 59.4 369.2 60.5 368.3 61.5 367.3 62.5 366.4 63.5 365.6 64.5 364.7 65.5 363.9 66.5 363.1 67.5 362.3 68.6 361.5 69.6 360.7 70.6 360.0 71.6 359.2 72.6 358.5 73.6 357.8 74.6 357.1 75.6 356.4 76.7 355.7 77.7 355.0 78.7 354.4 79.7 353.7 80.7 353.1 81.7 352.4 82.7 351.8 83.7 351.1 84.7 350.5 85.8 349.9 86.8 349.3 87.8 348.6 88.8 348.0 89.8 347.4 90.8 346.8 91.8 346.2 92.8 345.6 93.9 344.9 94.9 344.3 95.9 343.7 96.9 343.1 97.9 342.5 98.9 341.9 99.9 341.3 100.9 340.7 102.0 340.1 103.0 339.5 104.0 338.9 105.0 338.3 106.0 337.7 107.0 337.1 108.0 336.5 109.0 336.0 110.1 335.4 111.1 334.8 112.1 334.2 113.1 333.6 114.1 333.0 115.1 332.4 116.1 331.8 117.1 331.2 118.1 330.6 119.2 330.0 120.2 329.4 121.2 328.8 122.2 328.2 123.2 327.6 124.2 327.0 125.2 326.4 126.2 325.8 127.3 325.2 128.3 324.6 129.3 324.0 130.3 323.4 131.3 322.8 132.3 322.2 133.3 321.6 134.3 320.9 135.4 320.3 136.4 319.7 137.4 319.1 138.4 318.5 139.4 317.9 140.4 317.3 141.4 316.7 142.4 316.1 143.4 315.4 144.5 314.8 145.5 314.2 146.5 313.6 147.5 313.0 148.5 312.4 149.5 311.8 150.5 311.2 151.5 310.5 152.6 309.9 153.6 309.3 154.6 308.7 155.6 308.1 156.6 307.5 157.6 306.9 158.6 306.3 159.6 305.7 160.7 305.1 161.7 304.5 162.7 303.9 163.7 303.3 164.7 302.7 165.7 302.1 166.7 301.5 167.7 300.9 168.8 300.3 169.8 299.7 170.8 299.1 171.8 298.5 172.8 297.9 173.8 297.3 174.8 296.8 175.8 296.2 176.8 295.6 177.9 295.0 178.9 294.4 179.9 293.9 180.9 293.3 181.9 292.7 182.9 292.2 183.9 291.6 184.9 291.0 186.0 290.5 187.0 289.9 188.0 289.4 189.0 288.8 190.0 288.3 191.0 287.7 192.0 287.2 193.0 286.6 194.1 286.1 195.1 285.6 196.1 285.0 197.1 284.5 198.1 284.0 199.1 283.4 200.1 282.9 201.1 282.4 202.2 281.9 203.2 281.4 204.2 280.9 205.2 280.4 206.2 279.9" stroke="#fa2a2a" stroke-width="2.2" fill="none"/>
<path d="M84.7 383.4 85.7 381.4 86.7 380.0 87.7 378.8 88.8 377.8 89.8 376.8 90.8 375.9 91.8 375.0 92.8 374.1 93.8 373.3 94.9 372.5 95.9 371.7 96.9 371.0 97.9 370.2 98.9 369.5 99.9 368.8 101.0 368.1 102.0 367.4 103.0 366.8 104.0 366.1 105.0 365.5 106.0 364.8 107.1 364.2 108.1 363.6 109.1 363.0 110.1 362.3 111.1 361.7 112.1 361.2 113.2 360.6 114.2 360.0 115.2 359.4 116.2 358.8 117.2 358.3 118.2 357.7 119.3 357.2 120.3 356.6 121.3 356.1 122.3 355.5 123.3 355.0 124.3 354.5 125.3 353.9 126.4 353.4 127.4 352.9 128.4 352.4 129.4 351.8 130.4 351.3 131.4 350.8 132.5 350.3 133.5 349.8 134.5 349.3 135.5 348.8 136.5 348.3 137.5 347.8 138.6 347.4 139.6 346.9 140.6 346.4 141.6 345.9 142.6 345.4 143.6 345.0 144.7 344.5 145.7 344.0 146.7 343.5 147.7 343.1 148.7 342.6 149.7 342.2 150.8 341.7 151.8 341.2 152.8 340.8 153.8 340.3 154.8 339.9 155.8 339.4 156.9 339.0 157.9 338.5 158.9 338.1 159.9 337.6 160.9 337.2 161.9 336.8 162.9 336.3 164.0 335.9 165.0 335.5 166.0 335.0 167.0 334.6 168.0 334.2 169.0 333.7 170.1 333.3 171.1 332.9 172.1 332.5 173.1 332.0 174.1 331.6 175.1 331.2 176.2 330.8 177.2 330.4 178.2 329.9 179.2 329.5 180.2 329.1 181.2 328.7 182.3 328.3 183.3 327.9 184.3 327.5 185.3 327.1 186.3 326.7 187.3 326.3 188.4 325.9 189.4 325.5 190.4 325.1 191.4 324.7 192.4 324.3 193.4 323.9 194.5 323.5 195.5 323.1 196.5 322.7 197.5 322.3" stroke="#0b62d8" stroke-width="2.1" fill="none" stroke-dasharray="2.7 4.3" stroke-linecap="round"/>
<path d="M91.5 375.4 92.5 374.2 93.5 373.2 94.5 372.3 95.6 371.4 96.6 370.6 97.6 369.7 98.6 368.9 99.6 368.1 100.6 367.4 101.6 366.6 102.7 365.8 103.7 365.1 104.7 364.4 105.7 363.6 106.7 362.9 107.7 362.2 108.7 361.5 109.8 360.8 110.8 360.1 111.8 359.4 112.8 358.7 113.8 358.0 114.8 357.4 115.8 356.7 116.9 356.0 117.9 355.4 118.9 354.7 119.9 354.1 120.9 353.4 121.9 352.8 122.9 352.1 124.0 351.5 125.0 350.8 126.0 350.2 127.0 349.6 128.0 348.9 129.0 348.3 130.0 347.7 131.1 347.0 132.1 346.4 133.1 345.8 134.1 345.2 135.1 344.6 136.1 344.0 137.1 343.3 138.2 342.7 139.2 342.1 140.2 341.5 141.2 340.9 142.2 340.3 143.2 339.7 144.3 339.1 145.3 338.5 146.3 337.9 147.3 337.3 148.3 336.7 149.3 336.2 150.3 335.6 151.4 335.0 152.4 334.4 153.4 333.8 154.4 333.2 155.4 332.6 156.4 332.1 157.4 331.5 158.5 330.9 159.5 330.3 160.5 329.8 161.5 329.2 162.5 328.6 163.5 328.0 164.5 327.5 165.6 326.9 166.6 326.3 167.6 325.8 168.6 325.2 169.6 324.6 170.6 324.1 171.6 323.5 172.7 322.9 173.7 322.4 174.7 321.8 175.7 321.3 176.7 320.7 177.7 320.1 178.7 319.6 179.8 319.0 180.8 318.5 181.8 317.9 182.8 317.4 183.8 316.8 184.8 316.3 185.8 315.7 186.9 315.2 187.9 314.6 188.9 314.1 189.9 313.5" stroke="#fa2a2a" stroke-width="2.2" fill="none"/>
<path d="M122.1 384.8 123.1 383.0 124.2 381.7 125.2 380.6 126.2 379.6 127.2 378.6 128.3 377.7 129.3 376.9 130.3 376.1 131.3 375.2 132.4 374.5 133.4 373.7 134.4 372.9 135.4 372.2 136.5 371.5 137.5 370.8 138.5 370.1 139.5 369.4 140.6 368.7 141.6 368.1 142.6 367.4 143.6 366.8 144.7 366.1 145.7 365.5 146.7 364.9 147.7 364.3 148.8 363.6 149.8 363.0 150.8 362.4 151.8 361.8 152.9 361.2 153.9 360.7 154.9 360.1 155.9 359.5 157.0 358.9 158.0 358.4 159.0 357.8 160.0 357.2 161.1 356.7 162.1 356.1 163.1 355.6 164.1 355.0 165.2 354.5 166.2 354.0 167.2 353.4 168.2 352.9 169.3 352.4 170.3 351.8 171.3 351.3 172.3 350.8 173.4 350.3 174.4 349.8 175.4 349.2 176.4 348.7 177.5 348.2 178.5 347.7 179.5 347.2 180.5 346.7 181.6 346.2 182.6 345.7" stroke="#0b62d8" stroke-width="2.1" fill="none" stroke-dasharray="2.7 4.3" stroke-linecap="round"/>
<path d="M122.1 385.9 123.1 384.1 124.2 382.9 125.2 381.7 126.2 380.6 127.2 379.6 128.3 378.6 129.3 377.6 130.3 376.7 131.4 375.8 132.4 374.9 133.4 374.0 134.5 373.1 135.5 372.3 136.5 371.5 137.5 370.6 138.6 369.8 139.6 369.0 140.6 368.2 141.7 367.5 142.7 366.7 143.7 365.9 144.8 365.2 145.8 364.4 146.8 363.7 147.8 362.9 148.9 362.2 149.9 361.5 150.9 360.8 152.0 360.0 153.0 359.3 154.0 358.6 155.1 357.9 156.1 357.2 157.1 356.5 158.1 355.8 159.2 355.1 160.2 354.5 161.2 353.8 162.3 353.1 163.3 352.4 164.3 351.8 165.4 351.1 166.4 350.4 167.4 349.8 168.4 349.1 169.5 348.5 170.5 347.8 171.5 347.2 172.6 346.5 173.6 345.9 174.6 345.2 175.7 344.6 176.7 344.0 177.7 343.3 178.7 342.7 179.8 342.1 180.8 341.4" stroke="#fa2a2a" stroke-width="2.2" fill="none"/>
<path d="M332.3 456.0 332.3 455.0 332.2 454.0 332.2 452.9 332.2 451.9 332.1 450.9 332.1 449.9 332.1 448.9 332.1 447.9 332.1 446.9 332.1 445.9 332.1 444.8 332.1 443.8 332.1 442.8 332.1 441.8 332.1 440.8 332.1 439.8 332.2 438.8 332.2 437.8 332.2 436.8 332.3 435.8 332.3 434.8 332.3 433.8 332.3 432.9 332.4 431.9 332.4 430.9 332.4 429.9 332.5 428.9 332.5 427.9 332.6 426.9 332.6 425.9 332.6 424.9 332.6 423.9 332.7 422.9 332.7 421.9 332.7 420.9 332.7 419.9 332.8 418.9 332.8 417.9 332.8 416.9 332.8 415.9 332.8 414.8 332.8 413.8 332.8 412.8 332.8 411.8 332.8 410.8 332.8 409.8 332.8 408.8 332.8 407.8 332.8 406.7 332.9 405.7 332.9 404.7 332.9 403.7 332.9 402.7 333.0 401.7 333.0 400.7 333.0 399.6 333.1 398.6 333.2 397.6 333.2 396.6 333.3 395.6 333.4 394.6 333.6 393.6 333.7 392.6 333.8 391.6 334.0 390.6 334.2 389.7 334.4 388.7 334.6 387.7 334.8 386.7 335.0 385.7 335.3 384.8 335.6 383.8 335.9 382.9 336.2 381.9 336.5 381.0 336.9 380.0 337.3 379.1 337.6 378.2 338.0 377.2 338.4 376.3 338.9 375.4 339.3 374.5 339.8 373.6 340.3 372.7 340.7 371.8 341.2 371.0 341.8 370.1 342.3 369.3 342.8 368.4 343.4 367.6 344.0 366.8 344.6 366.0 345.2 365.1 345.8 364.4 346.4 363.6 347.1 362.8 347.7 362.0 348.4 361.3 349.1 360.6 349.7 359.8 350.5 359.1 351.2 358.4 351.9 357.7 352.6 357.1 353.4 356.4 354.1 355.8 354.9 355.1 355.7 354.5 356.5 353.9 357.3 353.3 358.1 352.7 358.9 352.1 359.7 351.5 360.5 351.0 361.4 350.4 362.2 349.9 363.0 349.3 363.9 348.8 364.8 348.3 365.6 347.8 366.5 347.2 367.4 346.7 368.3 346.2 369.1 345.7 370.0 345.3 370.9 344.8 371.8 344.3 372.7 343.8 373.6 343.3 374.5 342.9 375.4 342.4 376.3 341.9 377.2 341.5 378.1 341.0 379.0 340.6 379.9 340.1 380.8 339.6 381.7 339.2 382.6 338.7 383.5 338.3 384.4 337.8 385.3 337.3 386.2 336.9 387.1 336.4 388.0 336.0 388.9 335.5 389.8 335.0 390.7 334.5 391.5 334.1 392.4 333.6 393.3 333.1 394.2 332.6 395.0 332.1 395.9 331.7 396.8 331.2 397.6 330.7 398.5 330.2 399.3 329.7 400.2 329.2 401.1 328.7 401.9 328.2 402.8 327.7 403.6 327.1 404.5 326.6 405.3 326.1 406.1 325.6 407.0 325.0 407.8 324.5 408.7 324.0 409.5 323.4 410.3 322.9 411.2 322.3 412.0 321.8 412.8 321.2 413.7 320.7 414.5 320.1 415.3 319.5 416.1 318.9 417.0 318.3 417.8 317.8 418.6 317.2 419.4 316.6 420.3 316.0 421.1 315.3 421.9 314.7 422.7 314.1 423.5 313.5 424.3 312.9 425.2 312.3 426.0 311.7 426.8 311.1 427.6 310.5 428.4 310.0 429.3 309.4 430.1 308.8 430.9 308.3 431.8 307.7 432.6 307.2 433.4 306.7 434.2 306.2 435.1 305.6 435.9 305.2 436.8 304.7 437.6 304.2 438.5 303.7 439.3 303.3 440.2 302.8 441.0 302.4 441.9 301.9 442.7 301.5 443.6 301.0 444.5 300.6 445.4 300.2 446.3 299.7 447.2 299.3 448.1 298.8 449.0 298.4 449.9 297.9 450.8 297.5 451.8 297.1 452.7 296.6 453.6 296.2 454.6 295.8 455.5 295.3 456.5 294.9 457.5 294.5 458.4 294.1 459.4 293.8 460.4 293.4 461.3 293.0 462.3 292.7 463.3 292.4 464.3 292.1 465.2 291.8 466.2 291.5 467.2 291.3 468.2 291.1 469.2 290.9 470.1 290.7 471.1 290.5 472.1 290.4 473.1 290.3 474.0 290.3 475.0 290.2 476.0 290.2 476.9 290.3 477.9 290.3 478.9 290.4 479.8 290.6 480.8 290.8 481.7 291.0 482.6 291.2 483.6 291.5 484.5 291.8 485.4 292.2 486.3 292.5 487.2 292.9 488.1 293.4 489.0 293.8 489.8 294.3 490.7 294.9 491.5 295.4 492.4 296.0 493.2 296.6 494.0 297.2 494.8 297.9 495.5 298.5 496.3 299.2 497.0 299.9 497.7 300.6 498.4 301.4 499.1 302.1 499.8 302.9 500.4 303.7 501.1 304.5 501.7 305.4 502.2 306.2 502.8 307.1 503.3 307.9 503.8 308.8 504.3 309.7 504.8 310.6 505.2 311.5 505.6 312.4 506.0 313.3 506.4 314.2 506.8 315.1 507.1 316.1 507.4 317.0 507.7 318.0 508.0 318.9 508.3 319.9 508.5 320.9 508.8 321.9 509.0 322.8 509.2 323.8 509.4 324.8 509.6 325.8 509.8 326.8 510.0 327.8 510.1 328.8 510.3 329.8 510.5 330.8 510.6 331.8 510.8 332.8 510.9 333.8 511.1 334.8 511.2 335.8 511.3 336.8 511.5 337.8 511.6 338.8 511.8 339.8 511.9 340.7 512.1 341.7 512.2 342.7 512.4 343.7 512.6 344.7 512.7 345.6" stroke="#3a3a3a" stroke-width="1.4" fill="none" stroke-linejoin="round"/>
<path d="M332.3 453.9l2.2 3.5h-4.4zM332.1 445.9l2.2 3.5h-4.4zM332.1 437.9l2.2 3.5h-4.4zM332.4 429.9l2.2 3.5h-4.4zM332.6 422.0l2.2 3.5h-4.4zM332.8 414.0l2.2 3.5h-4.4zM332.8 406.0l2.2 3.5h-4.4zM333.0 398.0l2.2 3.5h-4.4zM333.8 390.1l2.2 3.5h-4.4zM335.3 382.6l2.2 3.5h-4.4zM337.8 375.7l2.2 3.5h-4.4zM340.8 369.6l2.2 3.5h-4.4zM344.3 364.2l2.2 3.5h-4.4zM348.2 359.4l2.2 3.5h-4.4zM352.2 355.3l2.2 3.5h-4.4zM356.5 351.8l2.2 3.5h-4.4zM360.9 348.7l2.2 3.5h-4.4zM365.3 345.9l2.2 3.5h-4.4zM369.8 343.3l2.2 3.5h-4.4zM374.3 340.9l2.2 3.5h-4.4zM378.9 338.5l2.2 3.5h-4.4zM383.4 336.2l2.2 3.5h-4.4zM388.0 333.9l2.2 3.5h-4.4zM392.5 331.4l2.2 3.5h-4.4zM397.0 328.9l2.2 3.5h-4.4zM401.5 326.3l2.2 3.5h-4.4zM406.0 323.6l2.2 3.5h-4.4zM410.4 320.7l2.2 3.5h-4.4zM414.8 317.8l2.2 3.5h-4.4zM419.2 314.6l2.2 3.5h-4.4zM423.5 311.4l2.2 3.5h-4.4zM427.9 308.3l2.2 3.5h-4.4zM432.3 305.3l2.2 3.5h-4.4zM436.8 302.6l2.2 3.5h-4.4zM441.3 300.1l2.2 3.5h-4.4zM445.8 297.8l2.2 3.5h-4.4zM450.4 295.6l2.2 3.5h-4.4zM455.0 293.5l2.2 3.5h-4.4zM459.6 291.6l2.2 3.5h-4.4zM464.2 290.0l2.2 3.5h-4.4zM468.9 288.8l2.2 3.5h-4.4zM473.7 288.2l2.2 3.5h-4.4zM478.4 288.3l2.2 3.5h-4.4zM483.1 289.3l2.2 3.5h-4.4zM487.8 291.1l2.2 3.5h-4.4zM492.2 293.8l2.2 3.5h-4.4zM496.5 297.3l2.2 3.5h-4.4zM500.5 301.7l2.2 3.5h-4.4zM504.0 307.0l2.2 3.5h-4.4zM506.9 313.4l2.2 3.5h-4.4zM508.9 320.6l2.2 3.5h-4.4zM510.4 328.2l2.2 3.5h-4.4zM511.5 335.9l2.2 3.5h-4.4z" fill="#3a3a3a"/>
<path d="M365.6 456.1 365.6 455.0 365.6 454.0 365.6 453.0 365.6 451.9 365.6 450.9 365.7 449.9 365.7 448.9 365.7 447.9 365.7 446.9 365.7 445.8 365.8 444.8 365.8 443.8 365.8 442.8 365.8 441.8 365.9 440.8 365.9 439.8 365.9 438.8 366.0 437.8 366.0 436.8 366.0 435.8 366.1 434.8 366.1 433.8 366.1 432.8 366.2 431.9 366.2 430.9 366.3 429.9 366.3 428.9 366.4 427.9 366.4 426.9 366.5 425.9 366.5 424.9 366.6 423.9 366.6 422.9 366.7 421.9 366.8 421.0 366.8 420.0 366.9 419.0 367.0 418.0 367.0 417.0 367.1 416.0 367.2 415.0 367.2 414.0 367.3 413.0 367.4 412.0 367.5 411.0 367.5 410.0 367.6 408.9 367.7 407.9 367.8 406.9 367.9 405.9 367.9 404.9 368.0 403.9 368.1 402.8 368.2 401.8 368.3 400.8 368.4 399.8 368.5 398.7 368.6 397.7 368.7 396.7 368.8 395.6 368.9 394.6 369.1 393.6 369.2 392.5 369.4 391.5 369.6 390.5 369.8 389.5 370.0 388.6 370.3 387.6 370.6 386.7 370.9 385.7 371.3 384.8 371.7 383.9 372.1 383.1 372.5 382.2 373.1 381.4 373.6 380.6 374.2 379.8 374.9 379.1 375.5 378.4 376.2 377.7 377.0 377.0 377.7 376.3 378.5 375.7 379.2 375.0 380.0 374.3 380.8 373.7 381.5 373.0 382.2 372.3 383.0 371.6 383.7 370.9 384.4 370.2 385.1 369.5 385.8 368.8 386.4 368.0 387.1 367.3 387.8 366.6 388.4 365.8 389.1 365.1 389.8 364.3 390.4 363.6 391.1 362.9 391.7 362.1 392.4 361.4 393.1 360.7 393.8 359.9 394.4 359.2 395.1 358.5 395.8 357.7 396.5 357.0 397.2 356.3 397.9 355.6 398.7 354.9 399.4 354.2 400.1 353.5 400.9 352.8 401.6 352.1 402.4 351.5 403.1 350.8 403.9 350.1 404.7 349.5 405.4 348.8 406.2 348.2 407.0 347.6 407.8 346.9 408.5 346.3 409.3 345.7 410.1 345.1 410.9 344.5 411.7 343.9 412.4 343.3 413.2 342.8 414.0 342.2 414.8 341.7 415.6 341.2 416.4 340.8 417.2 340.4 418.1 340.2 419.0 340.1 420.0 340.1 421.0 340.2 422.0 340.3 423.1 340.4 424.0 340.4 425.0 340.2 425.9 340.0 426.9 339.7 427.8 339.3 428.7 338.9 429.5 338.4 430.4 337.9 431.3 337.4 432.2 336.9 433.1 336.5 433.9 336.0 434.8 335.6 435.7 335.3 436.7 335.1 437.6 334.9 438.5 334.7 439.5 334.7 440.5 334.6 441.4 334.7 442.4 334.8 443.4 334.9 444.4 335.1 445.3 335.3 446.3 335.6 447.3 335.9 448.3 336.2 449.2 336.6 450.2 337.0 451.1 337.5 452.1 337.9 453.0 338.4 453.9 338.9 454.8 339.5 455.7 340.0 456.5 340.6 457.4 341.2 458.2 341.8 459.0 342.4 459.8 343.0 460.5 343.7 461.3 344.4 462.0 345.1 462.7 345.8 463.4 346.5 464.1 347.2 464.7 347.9 465.4 348.7 466.0 349.5 466.6 350.3 467.2 351.1 467.7 351.9 468.2 352.7 468.8 353.6 469.2 354.4 469.7 355.3 470.2 356.2 470.6 357.1 471.0 358.0 471.4 358.9 471.7 359.8 472.1 360.7 472.4 361.7 472.7 362.6 473.0 363.6 473.2 364.6 473.4 365.6 473.6 366.6 473.8 367.6 473.9 368.6 474.1 369.6 474.2 370.6 474.3 371.7 474.3 372.7 474.3 373.8 474.3 374.8" stroke="#3a3a3a" stroke-width="1.4" fill="none" stroke-linejoin="round"/>
<path d="M365.6 454.0l2.2 3.5h-4.4zM365.7 446.0l2.2 3.5h-4.4zM365.9 438.0l2.2 3.5h-4.4zM366.2 430.0l2.2 3.5h-4.4zM366.6 422.0l2.2 3.5h-4.4zM367.1 414.1l2.2 3.5h-4.4zM367.7 406.1l2.2 3.5h-4.4zM368.3 398.2l2.2 3.5h-4.4zM369.2 390.3l2.2 3.5h-4.4zM371.1 383.0l2.2 3.5h-4.4zM374.5 377.4l2.2 3.5h-4.4zM378.6 373.5l2.2 3.5h-4.4zM382.8 369.7l2.2 3.5h-4.4zM386.8 365.5l2.2 3.5h-4.4zM390.8 361.1l2.2 3.5h-4.4zM394.8 356.7l2.2 3.5h-4.4zM398.8 352.6l2.2 3.5h-4.4zM403.0 348.8l2.2 3.5h-4.4zM407.3 345.2l2.2 3.5h-4.4zM411.6 341.9l2.2 3.5h-4.4zM416.0 338.9l2.2 3.5h-4.4zM420.7 338.1l2.2 3.5h-4.4zM425.4 338.0l2.2 3.5h-4.4zM430.0 336.0l2.2 3.5h-4.4zM434.5 333.7l2.2 3.5h-4.4zM439.2 332.6l2.2 3.5h-4.4zM444.0 332.9l2.2 3.5h-4.4zM448.7 334.3l2.2 3.5h-4.4zM453.2 336.5l2.2 3.5h-4.4zM457.7 339.3l2.2 3.5h-4.4zM461.9 342.9l2.2 3.5h-4.4zM465.9 347.2l2.2 3.5h-4.4zM469.4 352.6l2.2 3.5h-4.4zM472.2 359.0l2.2 3.5h-4.4zM473.9 366.5l2.2 3.5h-4.4z" fill="#3a3a3a"/>
<path d="M398.8 456.0 398.8 455.0 398.9 454.0 398.9 453.0 398.9 452.0 399.0 451.0 399.0 450.0 399.0 449.0 399.1 448.0 399.1 447.0 399.1 445.9 399.2 444.9 399.2 443.9 399.2 442.9 399.2 441.9 399.3 440.9 399.3 439.9 399.3 438.9 399.4 437.9 399.4 436.9 399.4 435.9 399.5 434.8 399.5 433.8 399.6 432.8 399.6 431.8 399.7 430.8 399.7 429.8 399.8 428.8 399.8 427.8 399.9 426.8 400.0 425.8 400.0 424.8 400.1 423.8 400.2 422.8 400.3 421.8 400.4 420.8 400.5 419.8 400.6 418.8 400.7 417.8 400.8 416.8 401.0 415.8 401.1 414.8 401.2 413.8 401.4 412.8 401.5 411.8 401.7 410.8 401.9 409.8 402.1 408.8 402.3 407.8 402.5 406.8 402.7 405.9 402.9 404.9 403.1 403.9 403.4 402.9 403.6 401.9 403.9 401.0 404.2 400.0 404.4 399.0 404.7 398.1 405.0 397.1 405.4 396.1 405.7 395.2 406.1 394.2 406.4 393.3 406.8 392.3 407.2 391.4 407.6 390.5 408.0 389.6 408.5 388.7 409.0 387.8 409.4 386.9 410.0 386.1 410.5 385.2 411.0 384.4 411.6 383.6 412.2 382.8 412.8 382.0 413.4 381.2 414.1 380.4 414.8 379.7 415.5 379.0 416.2 378.3 416.9 377.6 417.7 376.9 418.5 376.2 419.2 375.5 420.0 374.9 420.8 374.2 421.6 373.6 422.4 372.9 423.2 372.3 424.0 371.7 424.8 371.0 425.5 370.4 426.3 369.8 427.1 369.1 427.9 368.5 428.6 367.9 429.3 367.2 430.1 366.6 430.8 365.9 431.5 365.3 432.2 364.7 432.9 364.0 433.6 363.4 434.4 362.8 435.1 362.2 435.9 361.6 436.7 361.0 437.5 360.4 438.3 359.9 439.2 359.3 440.1 358.8 441.1 358.3 442.0 357.8 443.0 357.3 444.0 356.8 445.1 356.4 446.1 356.0 447.1 355.7 448.1 355.4 449.1 355.1 450.1 355.0 451.1 354.9 452.0 354.9 452.9 355.0 453.8 355.1 454.6 355.4 455.3 355.8 456.1 356.2 456.8 356.8 457.4 357.4 458.0 358.1 458.6 358.8 459.2 359.6 459.7 360.5 460.2 361.4 460.6 362.3 461.1 363.3 461.5 364.3 461.8 365.3 462.2 366.3 462.5 367.3 462.8 368.3 463.1 369.4 463.4 370.4 463.7 371.4 463.9 372.3 464.1 373.3 464.4 374.3 464.6 375.2 464.8 376.2 465.0 377.1 465.2 378.1 465.4 379.0 465.6 380.0 465.8 381.0 466.0 381.9 466.2 383.0 466.4 384.0" stroke="#3a3a3a" stroke-width="1.4" fill="none" stroke-linejoin="round"/>
<path d="M398.8 453.9l2.2 3.5h-4.4zM399.1 445.9l2.2 3.5h-4.4zM399.3 437.9l2.2 3.5h-4.4zM399.6 429.9l2.2 3.5h-4.4zM400.1 422.0l2.2 3.5h-4.4zM400.9 414.1l2.2 3.5h-4.4zM402.1 406.4l2.2 3.5h-4.4zM403.9 398.9l2.2 3.5h-4.4zM406.1 391.9l2.2 3.5h-4.4zM409.0 385.6l2.2 3.5h-4.4zM412.5 380.2l2.2 3.5h-4.4zM416.5 375.9l2.2 3.5h-4.4zM420.7 372.2l2.2 3.5h-4.4zM425.0 368.7l2.2 3.5h-4.4zM429.3 365.2l2.2 3.5h-4.4zM433.5 361.4l2.2 3.5h-4.4zM437.8 358.1l2.2 3.5h-4.4zM442.3 355.6l2.2 3.5h-4.4zM446.9 353.6l2.2 3.5h-4.4zM451.6 352.8l2.2 3.5h-4.4zM456.3 354.3l2.2 3.5h-4.4zM460.0 359.0l2.2 3.5h-4.4zM462.7 365.6l2.2 3.5h-4.4zM464.6 373.0l2.2 3.5h-4.4zM466.1 380.5l2.2 3.5h-4.4z" fill="#3a3a3a"/>
<path d="M332.1 376.5 333.1 375.8 334.1 375.0 335.1 374.2 336.1 373.5 337.1 372.8 338.2 372.1 339.2 371.3 340.2 370.6 341.2 369.9 342.2 369.2 343.2 368.5 344.2 367.9 345.2 367.2 346.2 366.5 347.2 365.8 348.2 365.2 349.3 364.5 350.3 363.9 351.3 363.2 352.3 362.5 353.3 361.9 354.3 361.3 355.3 360.6 356.3 360.0 357.3 359.3 358.3 358.7 359.3 358.1 360.4 357.4 361.4 356.8 362.4 356.2 363.4 355.6 364.4 354.9 365.4 354.3 366.4 353.7 367.4 353.1 368.4 352.5 369.4 351.9 370.4 351.3 371.5 350.6 372.5 350.0 373.5 349.4 374.5 348.8 375.5 348.2 376.5 347.6 377.5 347.0 378.5 346.4 379.5 345.8 380.5 345.3 381.5 344.7 382.6 344.1 383.6 343.5 384.6 342.9 385.6 342.3 386.6 341.7 387.6 341.1 388.6 340.6 389.6 340.0 390.6 339.4 391.6 338.8 392.6 338.2 393.7 337.7 394.7 337.1 395.7 336.5 396.7 335.9 397.7 335.4 398.7 334.8 399.7 334.2 400.7 333.6 401.7 333.1 402.7 332.5 403.7 331.9 404.8 331.4 405.8 330.8 406.8 330.2 407.8 329.7 408.8 329.1 409.8 328.6 410.8 328.0 411.8 327.4 412.8 326.9 413.8 326.3 414.9 325.8 415.9 325.2 416.9 324.7 417.9 324.1 418.9 323.5 419.9 323.0 420.9 322.4 421.9 321.9 422.9 321.3 423.9 320.8 424.9 320.2 426.0 319.7 427.0 319.1 428.0 318.6 429.0 318.0 430.0 317.5 431.0 317.0 432.0 316.4 433.0 315.9 434.0 315.3 435.0 314.8 436.0 314.2 437.1 313.7 438.1 313.2 439.1 312.6 440.1 312.1 441.1 311.5 442.1 311.0 443.1 310.5 444.1 309.9 445.1 309.4 446.1 308.8 447.1 308.3 448.2 307.8 449.2 307.2 450.2 306.7 451.2 306.2 452.2 305.6 453.2 305.1 454.2 304.6 455.2 304.0 456.2 303.5 457.2 303.0 458.2 302.5 459.3 301.9 460.3 301.4 461.3 300.9 462.3 300.3 463.3 299.8 464.3 299.3 465.3 298.8 466.3 298.2 467.3 297.7 468.3 297.2 469.3 296.7 470.4 296.1 471.4 295.6 472.4 295.1 473.4 294.6 474.4 294.0 475.4 293.5 476.4 293.0 477.4 292.5 478.4 292.0 479.4 291.4 480.4 290.9 481.5 290.4 482.5 289.9 483.5 289.4 484.5 288.8 485.5 288.3 486.5 287.8 487.5 287.3 488.5 286.8 489.5 286.3 490.5 285.8 491.5 285.2 492.6 284.7 493.6 284.2 494.6 283.7 495.6 283.2 496.6 282.7 497.6 282.2" stroke="#fa2a2a" stroke-width="2.2" fill="none"/>
<path d="M332.7 377.8 333.7 377.1 334.7 376.4 335.7 375.7 336.7 375.0 337.8 374.3 338.8 373.7 339.8 373.0 340.8 372.4 341.8 371.7 342.8 371.1 343.8 370.5 344.8 369.8 345.8 369.2 346.9 368.6 347.9 368.0 348.9 367.4 349.9 366.8 350.9 366.2 351.9 365.6 352.9 365.0 353.9 364.4 354.9 363.8 356.0 363.3 357.0 362.7 358.0 362.1 359.0 361.5 360.0 361.0 361.0 360.4 362.0 359.8 363.0 359.3 364.0 358.7 365.0 358.2 366.1 357.6 367.1 357.0 368.1 356.5 369.1 355.9 370.1 355.4 371.1 354.9 372.1 354.3 373.1 353.8 374.1 353.2 375.2 352.7 376.2 352.2 377.2 351.6 378.2 351.1 379.2 350.6 380.2 350.0 381.2 349.5 382.2 349.0 383.2 348.4 384.3 347.9 385.3 347.4 386.3 346.9 387.3 346.3 388.3 345.8 389.3 345.3 390.3 344.8 391.3 344.3 392.3 343.8 393.4 343.2 394.4 342.7 395.4 342.2 396.4 341.7 397.4 341.2 398.4 340.7 399.4 340.2 400.4 339.7 401.4 339.2 402.5 338.7 403.5 338.2 404.5 337.7 405.5 337.2 406.5 336.7 407.5 336.2 408.5 335.7 409.5 335.2 410.5 334.7 411.6 334.2 412.6 333.7 413.6 333.2 414.6 332.7 415.6 332.2 416.6 331.7 417.6 331.2 418.6 330.7 419.6 330.2 420.6 329.7 421.7 329.2 422.7 328.8 423.7 328.3 424.7 327.8 425.7 327.3 426.7 326.8 427.7 326.3 428.7 325.9 429.7 325.4 430.8 324.9 431.8 324.4 432.8 323.9 433.8 323.4 434.8 323.0 435.8 322.5 436.8 322.0 437.8 321.5 438.8 321.1 439.9 320.6 440.9 320.1 441.9 319.6 442.9 319.2 443.9 318.7 444.9 318.2 445.9 317.7 446.9 317.3 447.9 316.8 449.0 316.3 450.0 315.9 451.0 315.4 452.0 314.9 453.0 314.4 454.0 314.0 455.0 313.5 456.0 313.0 457.0 312.6 458.1 312.1 459.1 311.7 460.1 311.2 461.1 310.7 462.1 310.3 463.1 309.8 464.1 309.3 465.1 308.9 466.1 308.4 467.2 307.9 468.2 307.5 469.2 307.0 470.2 306.6 471.2 306.1 472.2 305.6 473.2 305.2 474.2 304.7 475.2 304.3 476.2 303.8 477.3 303.4 478.3 302.9 479.3 302.5 480.3 302.0 481.3 301.5 482.3 301.1 483.3 300.6 484.3 300.2 485.3 299.7 486.4 299.3 487.4 298.8 488.4 298.4 489.4 297.9 490.4 297.5 491.4 297.0 492.4 296.6 493.4 296.1 494.4 295.7 495.5 295.2 496.5 294.8 497.5 294.3 498.5 293.9 499.5 293.4" stroke="#0b62d8" stroke-width="2.1" fill="none" stroke-dasharray="2.7 4.3" stroke-linecap="round"/>
<path d="M365.1 378.2 366.1 377.3 367.1 376.4 368.2 375.7 369.2 374.9 370.2 374.2 371.2 373.4 372.2 372.7 373.2 372.0 374.3 371.3 375.3 370.6 376.3 370.0 377.3 369.3 378.3 368.6 379.4 368.0 380.4 367.3 381.4 366.7 382.4 366.1 383.4 365.4 384.4 364.8 385.5 364.2 386.5 363.5 387.5 362.9 388.5 362.3 389.5 361.7 390.5 361.1 391.6 360.4 392.6 359.8 393.6 359.2 394.6 358.6 395.6 358.0 396.7 357.4 397.7 356.8 398.7 356.2 399.7 355.6 400.7 355.0 401.7 354.5 402.8 353.9 403.8 353.3 404.8 352.7 405.8 352.1 406.8 351.5 407.9 350.9 408.9 350.4 409.9 349.8 410.9 349.2 411.9 348.6 412.9 348.1 414.0 347.5 415.0 346.9 416.0 346.4 417.0 345.8 418.0 345.2 419.0 344.7 420.1 344.1 421.1 343.5 422.1 343.0 423.1 342.4 424.1 341.9 425.2 341.3 426.2 340.7 427.2 340.2 428.2 339.6 429.2 339.1 430.2 338.5 431.3 338.0 432.3 337.4 433.3 336.9 434.3 336.3 435.3 335.8 436.4 335.2 437.4 334.7 438.4 334.1 439.4 333.6 440.4 333.0 441.4 332.5 442.5 331.9 443.5 331.4 444.5 330.9 445.5 330.3 446.5 329.8 447.5 329.2 448.6 328.7 449.6 328.2 450.6 327.6" stroke="#fa2a2a" stroke-width="2.2" fill="none"/>
<path d="M366.4 380.0 367.4 379.2 368.4 378.4 369.4 377.6 370.5 376.9 371.5 376.2 372.5 375.4 373.5 374.7 374.5 374.0 375.5 373.3 376.5 372.7 377.5 372.0 378.6 371.3 379.6 370.7 380.6 370.0 381.6 369.4 382.6 368.8 383.6 368.1 384.6 367.5 385.6 366.9 386.7 366.3 387.7 365.7 388.7 365.1 389.7 364.5 390.7 363.9 391.7 363.3 392.7 362.8 393.7 362.2 394.8 361.6 395.8 361.0 396.8 360.5 397.8 359.9 398.8 359.4 399.8 358.8 400.8 358.2 401.8 357.7 402.9 357.1 403.9 356.6 404.9 356.1 405.9 355.5 406.9 355.0 407.9 354.4 408.9 353.9 409.9 353.4 411.0 352.9 412.0 352.3 413.0 351.8 414.0 351.3 415.0 350.8 416.0 350.3 417.0 349.7 418.0 349.2 419.1 348.7 420.1 348.2 421.1 347.7 422.1 347.2 423.1 346.7 424.1 346.2 425.1 345.7 426.1 345.2 427.2 344.7 428.2 344.2 429.2 343.7 430.2 343.2 431.2 342.7 432.2 342.3 433.2 341.8 434.2 341.3 435.3 340.8 436.3 340.3 437.3 339.8 438.3 339.4 439.3 338.9 440.3 338.4 441.3 337.9 442.3 337.5 443.4 337.0 444.4 336.5 445.4 336.0 446.4 335.6 447.4 335.1 448.4 334.6 449.4 334.2 450.4 333.7 451.5 333.2 452.5 332.8 453.5 332.3 454.5 331.9" stroke="#0b62d8" stroke-width="2.1" fill="none" stroke-dasharray="2.7 4.3" stroke-linecap="round"/>
<path d="M410.6 370.8 411.6 370.2 412.7 369.5 413.7 368.9 414.8 368.3 415.8 367.7 416.9 367.1 417.9 366.5 419.0 365.9 420.0 365.3 421.1 364.7 422.1 364.1 423.1 363.5 424.2 362.9 425.2 362.3 426.3 361.7 427.3 361.1 428.4 360.5 429.4 359.9 430.5 359.3 431.5 358.7 432.6 358.1 433.6 357.6 434.6 357.0 435.7 356.4 436.7 355.8 437.8 355.2 438.8 354.7 439.9 354.1 440.9 353.5 442.0 352.9 443.0 352.4 444.0 351.8 445.1 351.2 446.1 350.6 447.2 350.1 448.2 349.5 449.3 348.9 450.3 348.4 451.4 347.8 452.4 347.2 453.5 346.7 454.5 346.1" stroke="#fa2a2a" stroke-width="2.2" fill="none"/>
<path d="M410.6 373.7 411.6 373.2 412.7 372.7 413.7 372.2 414.7 371.6 415.8 371.1 416.8 370.6 417.8 370.0 418.9 369.5 419.9 369.0 420.9 368.4 422.0 367.9 423.0 367.4 424.0 366.8 425.0 366.3 426.1 365.7 427.1 365.2 428.1 364.6 429.2 364.1 430.2 363.6 431.2 363.0 432.3 362.5 433.3 361.9 434.3 361.4 435.4 360.8 436.4 360.3 437.4 359.7 438.5 359.2 439.5 358.6 440.5 358.1 441.6 357.5 442.6 356.9 443.6 356.4 444.6 355.8 445.7 355.3 446.7 354.7 447.7 354.2 448.8 353.6 449.8 353.0 450.8 352.5 451.9 351.9 452.9 351.4 453.9 350.8 455.0 350.3 456.0 349.7" stroke="#0b62d8" stroke-width="2.1" fill="none" stroke-dasharray="2.7 4.3" stroke-linecap="round"/>
<path d="M130.00 155.60H152.30" stroke="#3a3a3a" stroke-width="1.3"/>
<path d="M141.15 153.70l1.8 3.2h-3.6z" fill="#3a3a3a"/>
<path d="M131.05 170.10H153.00" stroke="#0b62d8" stroke-width="2.1" stroke-dasharray="1.2 5.9" stroke-linecap="round"/>
<path d="M130.00 184.00H152.30" stroke="#fa2a2a" stroke-width="2.2"/>
<text x="159.40" y="158.60" textLength="50.80" lengthAdjust="spacingAndGlyphs" font-family="Liberation Serif, serif" font-weight="bold" font-size="10.4" fill="#111" stroke="#111" stroke-width="0.3">Testing Data</text>
<text x="159.40" y="173.10" textLength="42.60" lengthAdjust="spacingAndGlyphs" font-family="Liberation Serif, serif" font-weight="bold" font-size="10.4" fill="#111" stroke="#111" stroke-width="0.3">J-C Model</text>
<text x="159.40" y="187.50" textLength="81.60" lengthAdjust="spacingAndGlyphs" font-family="Liberation Serif, serif" font-weight="bold" font-size="10.4" fill="#111" stroke="#111" stroke-width="0.3">Modified J-C Model</text>
<path d="M414.90 150.90H436.70" stroke="#3a3a3a" stroke-width="1.3"/>
<path d="M425.80 149.00l1.8 3.2h-3.6z" fill="#3a3a3a"/>
<path d="M415.95 165.80H437.40" stroke="#0b62d8" stroke-width="2.1" stroke-dasharray="1.2 5.9" stroke-linecap="round"/>
<path d="M414.90 180.10H436.70" stroke="#fa2a2a" stroke-width="2.2"/>
<text x="443.50" y="154.70" textLength="49.40" lengthAdjust="spacingAndGlyphs" font-family="Liberation Serif, serif" font-weight="bold" font-size="10.4" fill="#111" stroke="#111" stroke-width="0.3">Testing Data</text>
<text x="443.50" y="169.20" textLength="41.60" lengthAdjust="spacingAndGlyphs" font-family="Liberation Serif, serif" font-weight="bold" font-size="10.4" fill="#111" stroke="#111" stroke-width="0.3">J-C Model</text>
<text x="443.50" y="183.40" textLength="78.70" lengthAdjust="spacingAndGlyphs" font-family="Liberation Serif, serif" font-weight="bold" font-size="10.4" fill="#111" stroke="#111" stroke-width="0.3">Modified J-C Model</text>
<path d="M139.50 409.20H161.40" stroke="#3a3a3a" stroke-width="1.3"/>
<path d="M150.45 407.30l1.8 3.2h-3.6z" fill="#3a3a3a"/>
<path d="M140.55 423.80H162.10" stroke="#0b62d8" stroke-width="2.1" stroke-dasharray="1.2 5.9" stroke-linecap="round"/>
<path d="M139.50 438.30H161.40" stroke="#fa2a2a" stroke-width="2.2"/>
<text x="168.50" y="412.70" textLength="50.90" lengthAdjust="spacingAndGlyphs" font-family="Liberation Serif, serif" font-weight="bold" font-size="10.4" fill="#111" stroke="#111" stroke-width="0.3">Testing Data</text>
<text x="168.50" y="427.40" textLength="42.70" lengthAdjust="spacingAndGlyphs" font-family="Liberation Serif, serif" font-weight="bold" font-size="10.4" fill="#111" stroke="#111" stroke-width="0.3">J-C Model</text>
<text x="168.50" y="441.60" textLength="80.90" lengthAdjust="spacingAndGlyphs" font-family="Liberation Serif, serif" font-weight="bold" font-size="10.4" fill="#111" stroke="#111" stroke-width="0.3">Modified J-C Model</text>
<path d="M420.60 406.80H442.60" stroke="#3a3a3a" stroke-width="1.3"/>
<path d="M431.60 404.90l1.8 3.2h-3.6z" fill="#3a3a3a"/>
<path d="M421.65 421.50H443.30" stroke="#0b62d8" stroke-width="2.1" stroke-dasharray="1.2 5.9" stroke-linecap="round"/>
<path d="M420.60 435.70H442.60" stroke="#fa2a2a" stroke-width="2.2"/>
<text x="449.50" y="409.90" textLength="49.90" lengthAdjust="spacingAndGlyphs" font-family="Liberation Serif, serif" font-weight="bold" font-size="10.4" fill="#111" stroke="#111" stroke-width="0.3">Testing Data</text>
<text x="449.50" y="424.30" textLength="42.00" lengthAdjust="spacingAndGlyphs" font-family="Liberation Serif, serif" font-weight="bold" font-size="10.4" fill="#111" stroke="#111" stroke-width="0.3">J-C Model</text>
<text x="449.50" y="438.70" textLength="78.70" lengthAdjust="spacingAndGlyphs" font-family="Liberation Serif, serif" font-weight="bold" font-size="10.4" fill="#111" stroke="#111" stroke-width="0.3">Modified J-C Model</text>
<text x="60.10" y="38.30" textLength="72.50" lengthAdjust="spacingAndGlyphs" font-family="Liberation Serif, serif" font-weight="bold" font-size="12.10" fill="#111" stroke="#111" stroke-width="0.35">Zr/PTFE, 298K</text>
<text x="344.00" y="38.10" textLength="69.20" lengthAdjust="spacingAndGlyphs" font-family="Liberation Serif, serif" font-weight="bold" font-size="12.10" fill="#111" stroke="#111" stroke-width="0.35">Ti/PTFE, 298K</text>
<text x="60.10" y="291.50" textLength="72.60" lengthAdjust="spacingAndGlyphs" font-family="Liberation Serif, serif" font-weight="bold" font-size="12.10" fill="#111" stroke="#111" stroke-width="0.35">Zr/PTFE, 373K</text>
<text x="343.20" y="292.70" textLength="68.70" lengthAdjust="spacingAndGlyphs" font-family="Liberation Serif, serif" font-weight="bold" font-size="12.10" fill="#111" stroke="#111" stroke-width="0.35">Ti/PTFE, 373K</text>
<text x="114.90" y="233.20" textLength="69.60" lengthAdjust="spacingAndGlyphs" font-family="Liberation Serif, serif" font-weight="bold" font-size="15.60" fill="#111" stroke="#111" stroke-width="0.35">True Strain</text>
<text x="399.10" y="233.60" textLength="66.40" lengthAdjust="spacingAndGlyphs" font-family="Liberation Serif, serif" font-weight="bold" font-size="15.60" fill="#111" stroke="#111" stroke-width="0.35">True Strain</text>
<text x="114.50" y="488.20" textLength="69.50" lengthAdjust="spacingAndGlyphs" font-family="Liberation Serif, serif" font-weight="bold" font-size="15.60" fill="#111" stroke="#111" stroke-width="0.35">True Strain</text>
<text x="398.20" y="488.30" textLength="67.30" lengthAdjust="spacingAndGlyphs" font-family="Liberation Serif, serif" font-weight="bold" font-size="15.60" fill="#111" stroke="#111" stroke-width="0.35">True Strain</text>
<text transform="translate(23.30 169.30) rotate(-90)" x="0" y="0" textLength="123.30" lengthAdjust="spacingAndGlyphs" font-family="Liberation Serif, serif" font-weight="bold" font-size="14.10" fill="#111" stroke="#111" stroke-width="0.35">True Stress (MPa)</text>
<text transform="translate(308.30 169.60) rotate(-90)" x="0" y="0" textLength="123.40" lengthAdjust="spacingAndGlyphs" font-family="Liberation Serif, serif" font-weight="bold" font-size="14.10" fill="#111" stroke="#111" stroke-width="0.35">True Stress (MPa)</text>
<text transform="translate(22.60 423.20) rotate(-90)" x="0" y="0" textLength="123.70" lengthAdjust="spacingAndGlyphs" font-family="Liberation Serif, serif" font-weight="bold" font-size="14.10" fill="#111" stroke="#111" stroke-width="0.35">True Stress (MPa)</text>
<text transform="translate(308.20 423.40) rotate(-90)" x="0" y="0" textLength="124.20" lengthAdjust="spacingAndGlyphs" font-family="Liberation Serif, serif" font-weight="bold" font-size="14.10" fill="#111" stroke="#111" stroke-width="0.35">True Stress (MPa)</text>
<text x="127.00" y="254.60" textLength="16.20" lengthAdjust="spacingAndGlyphs" font-family="Liberation Serif, serif" font-size="15.5" fill="#111">(<tspan font-weight="bold">a</tspan>)</text>
<text x="410.90" y="253.80" textLength="17.30" lengthAdjust="spacingAndGlyphs" font-family="Liberation Serif, serif" font-size="15.5" fill="#111">(<tspan font-weight="bold">b</tspan>)</text>
<text x="127.30" y="509.50" textLength="15.40" lengthAdjust="spacingAndGlyphs" font-family="Liberation Serif, serif" font-size="15.5" fill="#111">(<tspan font-weight="bold">c</tspan>)</text>
<text x="410.90" y="509.50" textLength="17.80" lengthAdjust="spacingAndGlyphs" font-family="Liberation Serif, serif" font-size="15.5" fill="#111">(<tspan font-weight="bold">d</tspan>)</text>
</svg>
</body></html>
